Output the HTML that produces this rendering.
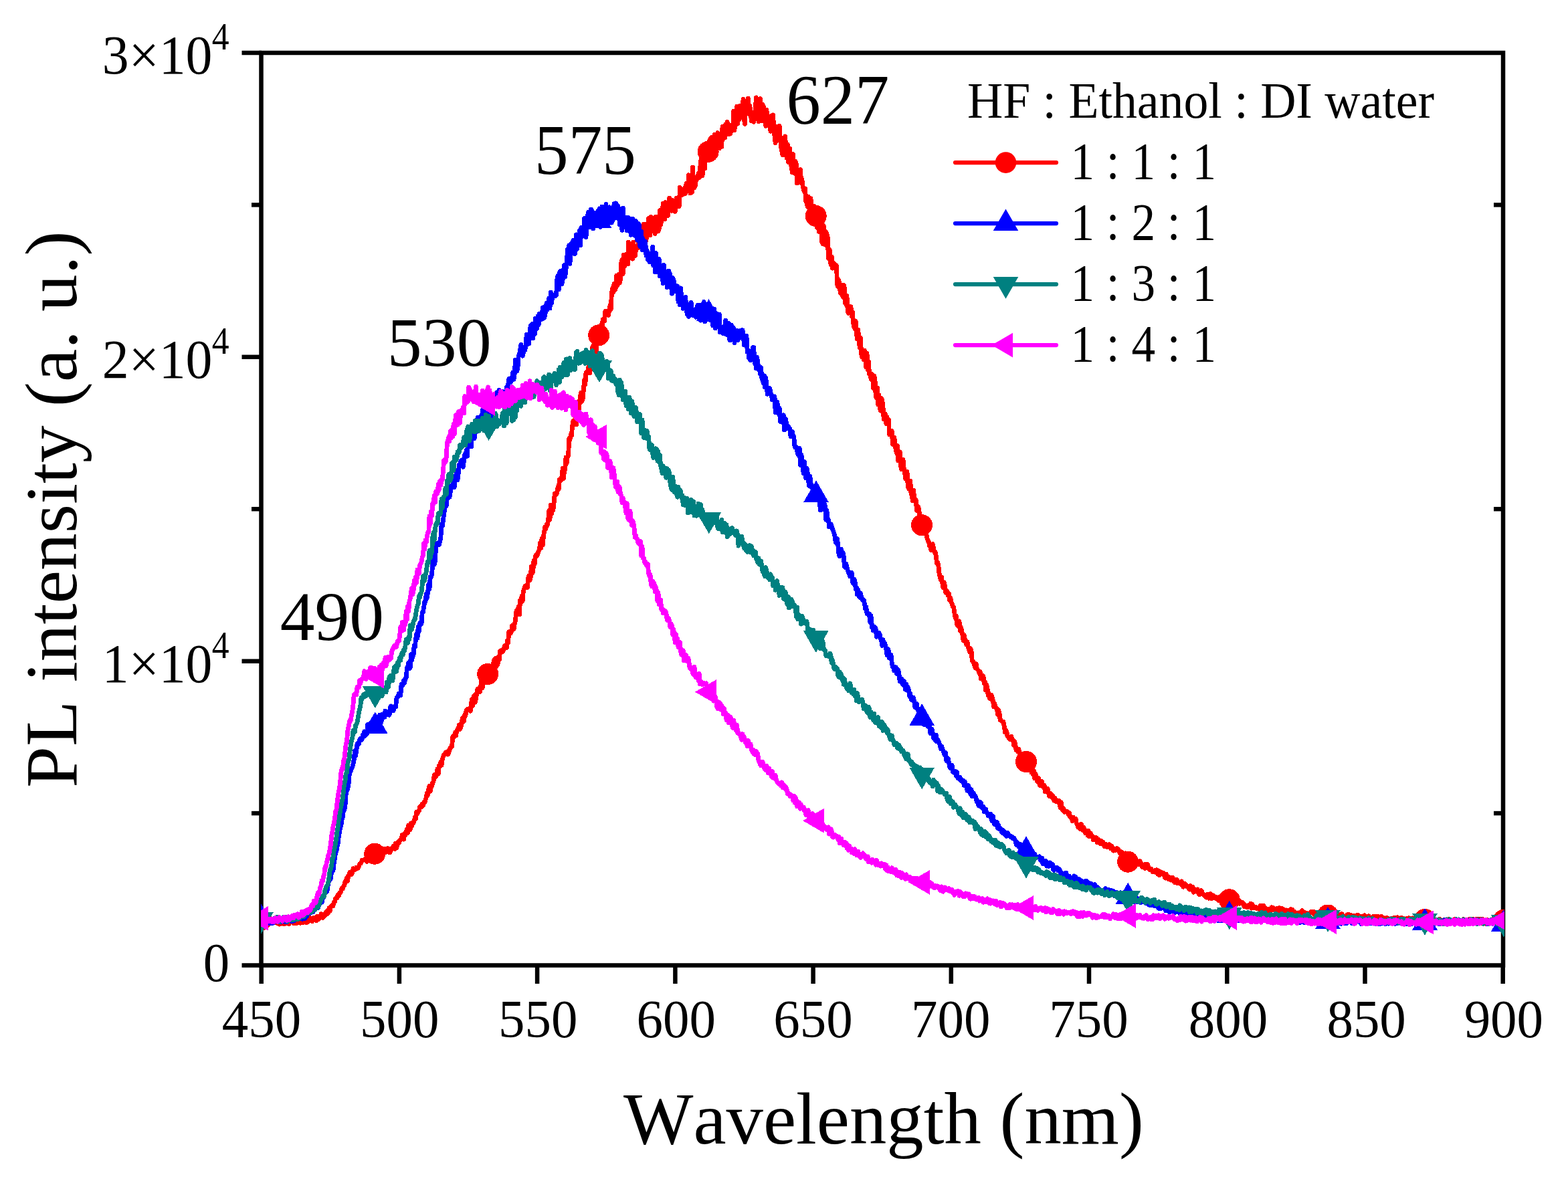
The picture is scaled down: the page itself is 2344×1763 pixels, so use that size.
<!DOCTYPE html>
<html lang="en"><head><meta charset="utf-8"><title>PL intensity vs Wavelength</title>
<style>
html,body{margin:0;padding:0;background:#fff;}
body{width:2344px;height:1763px;overflow:hidden;}
svg{display:block;}
</style></head><body>
<svg width="2344" height="1763" viewBox="0 0 2344 1763">
<rect width="2344" height="1763" fill="#ffffff"/>
<defs><clipPath id="pa"><rect x="390" y="79.0" width="1859" height="1364.5"/></clipPath></defs>
<g stroke="#000" stroke-width="6.5" fill="none" stroke-linecap="butt">
<rect x="390.5" y="79.0" width="1856.5" height="1364.5"/>
<line x1="390.7" y1="1443.5" x2="390.7" y2="1471.0"/>
<line x1="596.9" y1="1443.5" x2="596.9" y2="1471.0"/>
<line x1="803.1" y1="1443.5" x2="803.1" y2="1471.0"/>
<line x1="1009.4" y1="1443.5" x2="1009.4" y2="1471.0"/>
<line x1="1215.6" y1="1443.5" x2="1215.6" y2="1471.0"/>
<line x1="1421.8" y1="1443.5" x2="1421.8" y2="1471.0"/>
<line x1="1628.0" y1="1443.5" x2="1628.0" y2="1471.0"/>
<line x1="1834.3" y1="1443.5" x2="1834.3" y2="1471.0"/>
<line x1="2040.5" y1="1443.5" x2="2040.5" y2="1471.0"/>
<line x1="2246.7" y1="1443.5" x2="2246.7" y2="1471.0"/>
<line x1="391.0" y1="1443.5" x2="361.5" y2="1443.5"/>
<line x1="391.0" y1="988.7" x2="361.5" y2="988.7"/>
<line x1="391.0" y1="533.8" x2="361.5" y2="533.8"/>
<line x1="391.0" y1="79.0" x2="361.5" y2="79.0"/>
<line x1="391.0" y1="1216.1" x2="376.0" y2="1216.1"/>
<line x1="2247.0" y1="1216.1" x2="2233.0" y2="1216.1"/>
<line x1="391.0" y1="761.2" x2="376.0" y2="761.2"/>
<line x1="2247.0" y1="761.2" x2="2233.0" y2="761.2"/>
<line x1="391.0" y1="306.4" x2="376.0" y2="306.4"/>
<line x1="2247.0" y1="306.4" x2="2233.0" y2="306.4"/>
</g>
<g clip-path="url(#pa)" fill="none" stroke-linejoin="round" stroke-linecap="round" shape-rendering="crispEdges">
<polyline points="390.0,1378.1 391.2,1381.4 392.4,1375.4 393.6,1381.5 394.8,1376.8 396.0,1377.6 397.2,1380.7 398.4,1377.6 399.6,1378.7 400.8,1374.8 402.0,1380.2 403.2,1378.6 404.4,1377.1 405.6,1380.5 406.8,1376.9 408.0,1378.1 409.2,1375.7 410.4,1377.7 411.6,1376.3 412.8,1376.7 414.0,1380.3 415.2,1376.8 416.4,1378.4 417.6,1382.1 418.8,1381.9 420.0,1380.2 421.2,1378.8 422.4,1376.8 423.6,1376.0 424.8,1382.0 426.0,1378.6 427.2,1375.6 428.4,1379.4 429.6,1380.5 430.8,1379.3 432.0,1381.5 433.2,1375.0 434.4,1378.6 435.6,1378.1 436.8,1375.1 438.0,1379.3 439.2,1380.9 440.4,1378.9 441.6,1376.4 442.8,1380.7 444.0,1378.2 445.2,1378.1 446.4,1379.9 447.6,1375.3 448.8,1380.2 450.0,1379.1 451.2,1379.7 452.4,1375.2 453.6,1379.6 454.8,1374.9 456.0,1373.9 457.2,1379.4 458.4,1379.3 459.6,1379.2 460.8,1376.0 462.0,1374.3 463.2,1372.1 464.4,1376.6 465.6,1376.9 466.8,1377.5 468.0,1373.0 469.2,1372.2 470.4,1375.0 471.6,1375.9 472.8,1376.7 474.0,1370.2 475.2,1372.3 476.4,1374.9 477.6,1370.8 478.8,1371.6 480.0,1366.7 481.2,1371.0 482.4,1372.2 483.6,1370.8 484.8,1370.4 486.0,1367.9 487.2,1363.8 488.4,1367.0 489.6,1361.6 490.8,1365.2 492.0,1357.9 493.2,1362.4 494.4,1355.7 495.6,1355.6 496.8,1353.4 498.0,1354.6 499.2,1348.6 500.4,1348.4 501.6,1343.3 502.8,1343.4 504.0,1342.5 505.2,1337.6 506.4,1339.5 507.6,1334.8 508.8,1335.2 510.0,1332.1 511.2,1327.7 512.4,1329.1 513.6,1324.9 514.8,1324.3 516.0,1318.1 517.2,1317.8 518.4,1312.7 519.6,1317.8 520.8,1309.2 522.0,1307.5 523.2,1304.1 524.4,1304.2 525.6,1307.3 526.8,1305.3 528.0,1298.8 529.2,1299.7 530.4,1298.9 531.6,1300.0 532.8,1296.9 534.0,1297.0 535.2,1298.2 536.4,1296.1 537.6,1291.8 538.8,1291.5 540.0,1289.7 541.2,1286.3 542.4,1286.1 543.6,1285.9 544.8,1285.2 546.0,1284.2 547.2,1285.7 548.4,1288.5 549.6,1285.7 550.8,1285.0 552.0,1283.9 553.2,1281.5 554.4,1283.8 555.6,1280.9 556.8,1278.4 558.0,1273.6 559.2,1277.0 560.4,1273.8 561.6,1272.6 562.8,1275.8 564.0,1278.1 565.2,1273.0 566.4,1277.3 567.6,1274.6 568.8,1270.7 570.0,1278.3 571.2,1272.6 572.4,1271.3 573.6,1276.4 574.8,1269.0 576.0,1274.7 577.2,1269.0 578.4,1270.7 579.6,1268.7 580.8,1274.3 582.0,1269.4 583.2,1274.6 584.4,1270.6 585.6,1270.6 586.8,1268.1 588.0,1265.2 589.2,1265.1 590.4,1269.5 591.6,1261.0 592.8,1267.7 594.0,1264.3 595.2,1259.1 596.4,1260.6 597.6,1256.8 598.8,1255.4 600.0,1255.2 601.2,1248.7 602.4,1251.9 603.6,1255.1 604.8,1246.3 606.0,1249.2 607.2,1244.2 608.4,1239.9 609.6,1245.3 610.8,1234.1 612.0,1235.2 613.2,1240.7 614.4,1230.9 615.6,1235.3 616.8,1230.7 618.0,1230.9 619.2,1227.0 620.4,1222.1 621.6,1224.4 622.8,1214.2 624.0,1216.7 625.2,1213.7 626.4,1212.7 627.6,1206.5 628.8,1205.3 630.0,1206.8 631.2,1202.4 632.4,1204.5 633.6,1199.9 634.8,1200.3 636.0,1196.2 637.2,1192.1 638.4,1185.8 639.6,1188.9 640.8,1180.1 642.0,1175.3 643.2,1183.2 644.4,1175.6 645.6,1175.8 646.8,1170.3 648.0,1168.6 649.2,1159.0 650.4,1158.2 651.6,1161.5 652.8,1157.6 654.0,1149.9 655.2,1157.2 656.4,1144.6 657.6,1146.6 658.8,1139.4 660.0,1144.2 661.2,1136.1 662.4,1131.9 663.6,1128.3 664.8,1127.5 666.0,1125.3 667.2,1127.4 668.4,1123.9 669.6,1128.2 670.8,1125.8 672.0,1121.4 673.2,1117.4 674.4,1117.3 675.6,1116.3 676.8,1101.6 678.0,1100.5 679.2,1101.5 680.4,1095.5 681.6,1100.1 682.8,1093.1 684.0,1090.9 685.2,1088.9 686.4,1083.9 687.6,1090.6 688.8,1087.0 690.0,1084.1 691.2,1073.8 692.4,1077.0 693.6,1078.4 694.8,1068.6 696.0,1069.6 697.2,1062.0 698.4,1060.6 699.6,1060.3 700.8,1060.9 702.0,1059.3 703.2,1063.2 704.4,1052.5 705.6,1045.8 706.8,1055.4 708.0,1041.6 709.2,1039.7 710.4,1050.2 711.6,1044.7 712.8,1036.0 714.0,1030.4 715.2,1031.9 716.4,1028.7 717.6,1034.6 718.8,1025.3 720.0,1017.8 721.2,1028.7 722.4,1021.7 723.6,1011.6 724.8,1009.4 726.0,1012.8 727.2,1004.8 728.4,1011.3 729.6,1009.1 730.8,997.9 732.0,1008.5 733.2,1006.4 734.4,1006.8 735.6,1001.2 736.8,1000.0 738.0,989.8 739.2,985.9 740.4,984.8 741.6,997.7 742.8,990.8 744.0,993.9 745.2,982.2 746.4,986.9 747.6,973.4 748.8,972.8 750.0,972.4 751.2,974.6 752.4,972.3 753.6,968.9 754.8,965.1 756.0,965.0 757.2,969.0 758.4,957.6 759.6,961.2 760.8,944.8 762.0,947.4 763.2,947.2 764.4,945.1 765.6,935.3 766.8,934.7 768.0,941.1 769.2,932.6 770.4,928.2 771.6,915.6 772.8,912.1 774.0,911.6 775.2,906.9 776.4,919.0 777.6,897.6 778.8,900.8 780.0,891.5 781.2,898.7 782.4,883.8 783.6,880.3 784.8,876.5 786.0,876.1 787.2,878.0 788.4,878.5 789.6,864.2 790.8,860.8 792.0,867.7 793.2,862.8 794.4,847.2 795.6,857.3 796.8,854.5 798.0,838.3 799.2,843.9 800.4,832.0 801.6,829.6 802.8,831.2 804.0,828.3 805.2,823.9 806.4,821.7 807.6,811.4 808.8,819.6 810.0,805.6 811.2,815.2 812.4,803.1 813.6,794.8 814.8,788.1 816.0,790.6 817.2,784.0 818.4,785.0 819.6,778.0 820.8,763.6 822.0,776.7 823.2,755.5 824.4,768.6 825.6,764.3 826.8,762.9 828.0,753.3 829.2,738.1 830.4,740.6 831.6,736.8 832.8,737.5 834.0,728.2 835.2,731.6 836.4,717.3 837.6,717.4 838.8,718.2 840.0,711.6 841.2,700.2 842.4,715.4 843.6,703.7 844.8,701.5 846.0,684.1 847.2,692.3 848.4,683.0 849.6,681.1 850.8,656.0 852.0,657.5 853.2,650.2 854.4,651.2 855.6,637.5 856.8,629.3 858.0,634.6 859.2,634.5 860.4,623.5 861.6,634.7 862.8,614.8 864.0,607.2 865.2,615.9 866.4,601.8 867.6,591.7 868.8,587.2 870.0,600.2 871.2,596.0 872.4,582.8 873.6,568.2 874.8,575.5 876.0,557.3 877.2,555.8 878.4,557.6 879.6,549.4 880.8,543.8 882.0,557.5 883.2,530.7 884.4,539.5 885.6,519.1 886.8,516.8 888.0,516.3 889.2,535.1 890.4,523.4 891.6,523.5 892.8,495.3 894.0,510.1 895.2,499.2 896.4,495.0 897.6,500.5 898.8,485.3 900.0,488.4 901.2,477.7 902.4,478.7 903.6,479.9 904.8,465.3 906.0,465.7 907.2,466.8 908.4,465.0 909.6,471.6 910.8,463.2 912.0,457.0 913.2,463.0 914.4,438.1 915.6,431.4 916.8,436.8 918.0,424.6 919.2,434.0 920.4,430.6 921.6,412.3 922.8,427.3 924.0,418.4 925.2,410.5 926.4,423.2 927.6,417.7 928.8,393.3 930.0,388.1 931.2,409.7 932.4,381.3 933.6,398.4 934.8,380.8 936.0,380.1 937.2,384.5 938.4,395.1 939.6,362.1 940.8,365.8 942.0,383.2 943.2,370.7 944.4,365.6 945.6,387.2 946.8,361.9 948.0,375.8 949.2,382.9 950.4,374.4 951.6,370.9 952.8,369.7 954.0,370.8 955.2,350.6 956.4,361.2 957.6,365.6 958.8,367.0 960.0,366.0 961.2,364.5 962.4,335.0 963.6,343.6 964.8,345.3 966.0,359.6 967.2,342.1 968.4,335.9 969.6,326.5 970.8,335.1 972.0,351.7 973.2,324.1 974.4,328.3 975.6,332.5 976.8,339.3 978.0,332.2 979.2,349.4 980.4,324.2 981.6,335.5 982.8,341.8 984.0,345.8 985.2,342.3 986.4,314.5 987.6,336.5 988.8,330.9 990.0,320.3 991.2,304.6 992.4,308.3 993.6,327.9 994.8,302.6 996.0,309.5 997.2,306.1 998.4,322.6 999.6,307.3 1000.8,296.2 1002.0,305.2 1003.2,302.3 1004.4,315.2 1005.6,299.5 1006.8,311.8 1008.0,304.9 1009.2,316.3 1010.4,309.4 1011.6,296.0 1012.8,297.5 1014.0,295.6 1015.2,308.9 1016.4,280.3 1017.6,289.4 1018.8,291.9 1020.0,286.6 1021.2,291.0 1022.4,285.7 1023.6,280.8 1024.8,289.3 1026.0,274.3 1027.2,283.0 1028.4,285.8 1029.6,261.7 1030.8,267.3 1032.0,289.0 1033.2,288.2 1034.4,287.6 1035.6,250.1 1036.8,278.3 1038.0,280.9 1039.2,278.2 1040.4,269.6 1041.6,266.6 1042.8,266.7 1044.0,259.5 1045.2,266.0 1046.4,253.3 1047.6,240.8 1048.8,233.6 1050.0,262.8 1051.2,254.5 1052.4,229.6 1053.6,252.2 1054.8,229.3 1056.0,240.0 1057.2,226.8 1058.4,219.1 1059.6,215.6 1060.8,209.6 1062.0,207.9 1063.2,206.0 1064.4,205.1 1065.6,233.0 1066.8,218.8 1068.0,201.7 1069.2,216.0 1070.4,215.2 1071.6,211.8 1072.8,198.6 1074.0,206.2 1075.2,222.1 1076.4,200.9 1077.6,204.0 1078.8,219.5 1080.0,189.5 1081.2,207.5 1082.4,195.6 1083.6,205.8 1084.8,186.2 1086.0,191.5 1087.2,182.2 1088.4,200.6 1089.6,200.7 1090.8,187.2 1092.0,200.0 1093.2,188.3 1094.4,191.1 1095.6,192.8 1096.8,166.1 1098.0,194.9 1099.2,169.4 1100.4,173.1 1101.6,159.2 1102.8,185.2 1104.0,164.4 1105.2,178.5 1106.4,158.3 1107.6,163.3 1108.8,164.2 1110.0,157.5 1111.2,148.5 1112.4,178.7 1113.6,185.6 1114.8,154.7 1116.0,151.4 1117.2,158.6 1118.4,147.1 1119.6,170.4 1120.8,158.3 1122.0,166.3 1123.2,180.6 1124.4,178.8 1125.6,181.5 1126.8,182.3 1128.0,168.2 1129.2,164.9 1130.4,145.9 1131.6,149.2 1132.8,167.4 1134.0,181.9 1135.2,164.8 1136.4,147.6 1137.6,157.0 1138.8,180.6 1140.0,156.2 1141.2,158.8 1142.4,163.3 1143.6,177.8 1144.8,188.4 1146.0,164.1 1147.2,181.3 1148.4,179.8 1149.6,177.8 1150.8,185.0 1152.0,196.2 1153.2,173.3 1154.4,186.5 1155.6,171.8 1156.8,190.4 1158.0,203.6 1159.2,213.8 1160.4,194.5 1161.6,189.2 1162.8,202.7 1164.0,196.5 1165.2,188.3 1166.4,207.0 1167.6,220.2 1168.8,226.1 1170.0,231.7 1171.2,209.6 1172.4,207.2 1173.6,203.9 1174.8,219.1 1176.0,236.1 1177.2,215.9 1178.4,242.5 1179.6,239.4 1180.8,221.9 1182.0,241.2 1183.2,251.0 1184.4,257.8 1185.6,230.5 1186.8,258.5 1188.0,259.3 1189.2,241.4 1190.4,246.0 1191.6,274.0 1192.8,253.9 1194.0,253.9 1195.2,273.0 1196.4,253.5 1197.6,269.5 1198.8,267.6 1200.0,277.5 1201.2,282.6 1202.4,286.8 1203.6,282.0 1204.8,301.8 1206.0,302.8 1207.2,309.2 1208.4,294.1 1209.6,307.4 1210.8,299.3 1212.0,296.6 1213.2,313.0 1214.4,326.4 1215.6,324.1 1216.8,308.3 1218.0,309.1 1219.2,331.5 1220.4,332.0 1221.6,340.5 1222.8,318.1 1224.0,346.2 1225.2,334.1 1226.4,331.5 1227.6,337.0 1228.8,362.7 1230.0,364.5 1231.2,337.5 1232.4,348.9 1233.6,366.2 1234.8,346.5 1236.0,350.5 1237.2,354.8 1238.4,386.5 1239.6,372.6 1240.8,376.1 1242.0,395.8 1243.2,383.8 1244.4,401.2 1245.6,392.6 1246.8,393.8 1248.0,400.1 1249.2,396.4 1250.4,396.7 1251.6,425.7 1252.8,428.9 1254.0,419.1 1255.2,429.6 1256.4,438.3 1257.6,426.5 1258.8,439.7 1260.0,444.1 1261.2,426.1 1262.4,431.1 1263.6,453.3 1264.8,455.1 1266.0,442.4 1267.2,465.5 1268.4,468.3 1269.6,457.8 1270.8,461.8 1272.0,458.7 1273.2,472.6 1274.4,466.4 1275.6,483.0 1276.8,489.0 1278.0,491.4 1279.2,480.2 1280.4,499.9 1281.6,507.2 1282.8,493.2 1284.0,509.8 1285.2,519.6 1286.4,505.2 1287.6,529.0 1288.8,533.9 1290.0,529.8 1291.2,537.6 1292.4,524.2 1293.6,538.4 1294.8,548.9 1296.0,528.2 1297.2,552.9 1298.4,540.6 1299.6,559.3 1300.8,558.6 1302.0,566.4 1303.2,559.4 1304.4,564.4 1305.6,580.5 1306.8,561.9 1308.0,567.9 1309.2,593.0 1310.4,595.4 1311.6,579.9 1312.8,604.9 1314.0,590.8 1315.2,610.3 1316.4,614.1 1317.6,595.4 1318.8,598.1 1320.0,608.9 1321.2,626.6 1322.4,626.0 1323.6,619.1 1324.8,633.6 1326.0,623.6 1327.2,628.0 1328.4,627.8 1329.6,649.7 1330.8,649.6 1332.0,645.3 1333.2,644.4 1334.4,664.3 1335.6,654.8 1336.8,654.2 1338.0,662.8 1339.2,673.1 1340.4,677.9 1341.6,666.7 1342.8,688.8 1344.0,686.1 1345.2,675.8 1346.4,696.0 1347.6,702.0 1348.8,702.1 1350.0,687.3 1351.2,700.5 1352.4,706.2 1353.6,715.8 1354.8,711.0 1356.0,705.4 1357.2,726.8 1358.4,730.6 1359.6,724.4 1360.8,719.0 1362.0,738.8 1363.2,740.4 1364.4,748.8 1365.6,733.2 1366.8,745.7 1368.0,746.6 1369.2,747.1 1370.4,763.5 1371.6,759.6 1372.8,757.6 1374.0,763.2 1375.2,779.9 1376.4,779.5 1377.6,775.5 1378.8,787.9 1380.0,780.2 1381.2,793.4 1382.4,795.8 1383.6,786.4 1384.8,798.6 1386.0,805.3 1387.2,808.5 1388.4,810.3 1389.6,816.4 1390.8,817.0 1392.0,823.0 1393.2,817.1 1394.4,813.7 1395.6,820.0 1396.8,825.7 1398.0,825.3 1399.2,830.4 1400.4,841.6 1401.6,841.0 1402.8,845.5 1404.0,857.2 1405.2,863.1 1406.4,867.1 1407.6,862.8 1408.8,872.5 1410.0,878.8 1411.2,870.8 1412.4,875.2 1413.6,885.9 1414.8,882.8 1416.0,884.7 1417.2,890.5 1418.4,887.6 1419.6,897.4 1420.8,893.9 1422.0,900.1 1423.2,902.6 1424.4,907.6 1425.6,907.5 1426.8,916.3 1428.0,923.0 1429.2,920.8 1430.4,933.3 1431.6,935.4 1432.8,930.0 1434.0,929.0 1435.2,943.2 1436.4,938.0 1437.6,942.2 1438.8,948.8 1440.0,957.8 1441.2,950.0 1442.4,955.3 1443.6,960.4 1444.8,964.0 1446.0,959.8 1447.2,968.3 1448.4,970.4 1449.6,974.9 1450.8,969.8 1452.0,972.8 1453.2,987.9 1454.4,988.5 1455.6,991.3 1456.8,995.5 1458.0,998.4 1459.2,992.9 1460.4,1000.6 1461.6,1001.5 1462.8,1002.9 1464.0,1007.1 1465.2,1004.6 1466.4,1014.7 1467.6,1011.0 1468.8,1010.1 1470.0,1010.9 1471.2,1022.2 1472.4,1019.3 1473.6,1031.9 1474.8,1024.2 1476.0,1028.6 1477.2,1040.2 1478.4,1036.6 1479.6,1044.5 1480.8,1045.2 1482.0,1039.1 1483.2,1042.9 1484.4,1047.8 1485.6,1056.8 1486.8,1052.2 1488.0,1056.5 1489.2,1059.3 1490.4,1059.9 1491.6,1068.4 1492.8,1061.7 1494.0,1066.6 1495.2,1076.9 1496.4,1077.1 1497.6,1078.6 1498.8,1079.6 1500.0,1079.3 1501.2,1085.9 1502.4,1094.8 1503.6,1092.0 1504.8,1093.8 1506.0,1100.7 1507.2,1101.2 1508.4,1104.4 1509.6,1105.6 1510.8,1103.9 1512.0,1101.5 1513.2,1107.4 1514.4,1106.2 1515.6,1114.2 1516.8,1108.7 1518.0,1115.1 1519.2,1122.1 1520.4,1120.1 1521.6,1124.1 1522.8,1120.3 1524.0,1124.4 1525.2,1134.0 1526.4,1132.3 1527.6,1130.7 1528.8,1134.1 1530.0,1138.7 1531.2,1140.4 1532.4,1142.5 1533.6,1138.0 1534.8,1139.2 1536.0,1145.4 1537.2,1145.8 1538.4,1148.0 1539.6,1145.7 1540.8,1148.6 1542.0,1155.1 1543.2,1152.4 1544.4,1158.5 1545.6,1152.3 1546.8,1164.0 1548.0,1157.4 1549.2,1162.0 1550.4,1168.5 1551.6,1162.8 1552.8,1164.1 1554.0,1173.9 1555.2,1174.6 1556.4,1172.1 1557.6,1168.6 1558.8,1176.0 1560.0,1173.7 1561.2,1174.9 1562.4,1184.0 1563.6,1182.2 1564.8,1181.8 1566.0,1179.2 1567.2,1183.9 1568.4,1190.5 1569.6,1185.9 1570.8,1187.4 1572.0,1191.7 1573.2,1189.2 1574.4,1193.7 1575.6,1197.1 1576.8,1193.2 1578.0,1196.3 1579.2,1198.6 1580.4,1197.5 1581.6,1197.2 1582.8,1197.2 1584.0,1203.0 1585.2,1208.0 1586.4,1199.8 1587.6,1209.6 1588.8,1211.8 1590.0,1208.8 1591.2,1214.4 1592.4,1213.1 1593.6,1212.8 1594.8,1213.3 1596.0,1214.8 1597.2,1218.3 1598.4,1215.2 1599.6,1221.4 1600.8,1220.6 1602.0,1223.8 1603.2,1227.8 1604.4,1222.1 1605.6,1225.1 1606.8,1225.2 1608.0,1224.2 1609.2,1231.0 1610.4,1232.3 1611.6,1237.1 1612.8,1234.4 1614.0,1233.6 1615.2,1239.6 1616.4,1232.2 1617.6,1236.1 1618.8,1241.6 1620.0,1237.0 1621.2,1240.0 1622.4,1245.8 1623.6,1242.0 1624.8,1242.1 1626.0,1249.2 1627.2,1242.5 1628.4,1250.8 1629.6,1246.6 1630.8,1246.4 1632.0,1249.9 1633.2,1250.7 1634.4,1256.0 1635.6,1254.8 1636.8,1252.8 1638.0,1254.5 1639.2,1252.9 1640.4,1259.8 1641.6,1255.0 1642.8,1260.3 1644.0,1258.8 1645.2,1261.9 1646.4,1257.4 1647.6,1258.6 1648.8,1258.8 1650.0,1263.7 1651.2,1265.6 1652.4,1265.1 1653.6,1262.4 1654.8,1266.6 1656.0,1266.4 1657.2,1265.1 1658.4,1262.8 1659.6,1264.0 1660.8,1269.0 1662.0,1265.1 1663.2,1269.2 1664.4,1272.1 1665.6,1271.5 1666.8,1271.8 1668.0,1269.3 1669.2,1268.8 1670.4,1268.8 1671.6,1269.6 1672.8,1272.0 1674.0,1275.6 1675.2,1275.1 1676.4,1273.9 1677.6,1275.5 1678.8,1277.6 1680.0,1281.3 1681.2,1280.7 1682.4,1275.9 1683.6,1280.4 1684.8,1278.5 1686.0,1285.0 1687.2,1285.9 1688.4,1283.6 1689.6,1285.9 1690.8,1286.0 1692.0,1287.8 1693.2,1283.6 1694.4,1283.8 1695.6,1288.9 1696.8,1291.4 1698.0,1285.6 1699.2,1289.1 1700.4,1289.5 1701.6,1288.5 1702.8,1292.4 1704.0,1287.6 1705.2,1290.2 1706.4,1291.3 1707.6,1296.4 1708.8,1294.6 1710.0,1295.4 1711.2,1298.4 1712.4,1292.3 1713.6,1296.1 1714.8,1292.4 1716.0,1293.5 1717.2,1298.6 1718.4,1300.3 1719.6,1299.3 1720.8,1299.4 1722.0,1301.8 1723.2,1303.8 1724.4,1304.1 1725.6,1303.7 1726.8,1301.1 1728.0,1304.5 1729.2,1300.6 1730.4,1306.9 1731.6,1302.2 1732.8,1308.7 1734.0,1303.6 1735.2,1303.9 1736.4,1305.1 1737.6,1307.0 1738.8,1305.2 1740.0,1306.3 1741.2,1312.1 1742.4,1313.1 1743.6,1307.2 1744.8,1310.2 1746.0,1310.6 1747.2,1314.6 1748.4,1313.8 1749.6,1312.3 1750.8,1316.1 1752.0,1315.2 1753.2,1312.5 1754.4,1317.9 1755.6,1315.8 1756.8,1319.9 1758.0,1318.6 1759.2,1315.0 1760.4,1320.6 1761.6,1319.7 1762.8,1320.0 1764.0,1319.6 1765.2,1322.2 1766.4,1317.9 1767.6,1322.1 1768.8,1326.2 1770.0,1320.9 1771.2,1321.0 1772.4,1323.8 1773.6,1325.3 1774.8,1324.8 1776.0,1326.3 1777.2,1328.5 1778.4,1330.1 1779.6,1324.7 1780.8,1328.0 1782.0,1330.5 1783.2,1326.3 1784.4,1334.3 1785.6,1332.4 1786.8,1331.7 1788.0,1331.9 1789.2,1330.0 1790.4,1329.9 1791.6,1335.3 1792.8,1337.7 1794.0,1337.1 1795.2,1331.5 1796.4,1332.1 1797.6,1336.3 1798.8,1337.2 1800.0,1337.9 1801.2,1340.4 1802.4,1341.0 1803.6,1342.1 1804.8,1337.4 1806.0,1338.8 1807.2,1343.3 1808.4,1341.4 1809.6,1336.7 1810.8,1343.7 1812.0,1341.7 1813.2,1338.7 1814.4,1340.2 1815.6,1342.2 1816.8,1343.1 1818.0,1341.5 1819.2,1344.3 1820.4,1342.9 1821.6,1346.5 1822.8,1345.8 1824.0,1340.6 1825.2,1340.5 1826.4,1346.5 1827.6,1344.8 1828.8,1347.9 1830.0,1343.9 1831.2,1342.2 1832.4,1341.3 1833.6,1347.2 1834.8,1342.1 1836.0,1346.7 1837.2,1346.4 1838.4,1348.0 1839.6,1349.9 1840.8,1344.7 1842.0,1346.9 1843.2,1349.3 1844.4,1345.5 1845.6,1344.9 1846.8,1345.6 1848.0,1352.1 1849.2,1351.3 1850.4,1347.2 1851.6,1346.1 1852.8,1351.3 1854.0,1349.2 1855.2,1348.8 1856.4,1349.0 1857.6,1351.4 1858.8,1350.8 1860.0,1355.6 1861.2,1353.1 1862.4,1356.0 1863.6,1356.5 1864.8,1356.6 1866.0,1353.8 1867.2,1354.7 1868.4,1354.6 1869.6,1351.0 1870.8,1358.2 1872.0,1352.4 1873.2,1355.7 1874.4,1356.9 1875.6,1357.9 1876.8,1356.3 1878.0,1357.2 1879.2,1358.9 1880.4,1357.7 1881.6,1358.1 1882.8,1359.7 1884.0,1354.0 1885.2,1357.5 1886.4,1354.0 1887.6,1355.2 1888.8,1354.4 1890.0,1360.9 1891.2,1357.1 1892.4,1358.7 1893.6,1360.9 1894.8,1360.3 1896.0,1362.2 1897.2,1359.1 1898.4,1360.9 1899.6,1362.3 1900.8,1356.8 1902.0,1359.7 1903.2,1357.0 1904.4,1360.6 1905.6,1359.0 1906.8,1363.1 1908.0,1360.4 1909.2,1358.3 1910.4,1363.8 1911.6,1360.6 1912.8,1357.7 1914.0,1359.7 1915.2,1360.7 1916.4,1358.2 1917.6,1359.2 1918.8,1360.5 1920.0,1360.9 1921.2,1361.8 1922.4,1360.9 1923.6,1361.2 1924.8,1362.4 1926.0,1361.7 1927.2,1364.8 1928.4,1365.2 1929.6,1359.7 1930.8,1360.9 1932.0,1360.5 1933.2,1362.5 1934.4,1362.7 1935.6,1365.7 1936.8,1365.7 1938.0,1366.9 1939.2,1365.6 1940.4,1365.0 1941.6,1368.1 1942.8,1365.6 1944.0,1363.9 1945.2,1363.4 1946.4,1361.5 1947.6,1368.3 1948.8,1367.0 1950.0,1364.3 1951.2,1368.1 1952.4,1367.4 1953.6,1365.3 1954.8,1369.0 1956.0,1368.6 1957.2,1365.5 1958.4,1365.4 1959.6,1363.5 1960.8,1363.2 1962.0,1365.2 1963.2,1364.2 1964.4,1363.2 1965.6,1368.2 1966.8,1370.0 1968.0,1368.1 1969.2,1369.8 1970.4,1369.6 1971.6,1368.0 1972.8,1367.2 1974.0,1366.1 1975.2,1367.2 1976.4,1366.0 1977.6,1365.0 1978.8,1367.5 1980.0,1368.8 1981.2,1368.3 1982.4,1369.5 1983.6,1366.7 1984.8,1364.3 1986.0,1366.0 1987.2,1366.6 1988.4,1368.7 1989.6,1367.6 1990.8,1369.6 1992.0,1366.6 1993.2,1368.5 1994.4,1365.2 1995.6,1370.3 1996.8,1371.7 1998.0,1371.7 1999.2,1372.0 2000.4,1367.1 2001.6,1373.0 2002.8,1369.9 2004.0,1367.4 2005.2,1366.8 2006.4,1366.7 2007.6,1371.0 2008.8,1371.0 2010.0,1372.3 2011.2,1371.4 2012.4,1370.5 2013.6,1368.0 2014.8,1372.3 2016.0,1367.1 2017.2,1372.0 2018.4,1368.5 2019.6,1368.5 2020.8,1374.0 2022.0,1374.3 2023.2,1372.9 2024.4,1369.4 2025.6,1371.2 2026.8,1370.4 2028.0,1368.8 2029.2,1369.8 2030.4,1368.5 2031.6,1375.3 2032.8,1370.0 2034.0,1371.2 2035.2,1370.2 2036.4,1373.2 2037.6,1372.7 2038.8,1374.2 2040.0,1368.8 2041.2,1370.3 2042.4,1373.2 2043.6,1373.1 2044.8,1375.0 2046.0,1369.7 2047.2,1371.9 2048.4,1372.2 2049.6,1373.0 2050.8,1371.9 2052.0,1374.8 2053.2,1370.3 2054.4,1370.0 2055.6,1371.9 2056.8,1370.4 2058.0,1372.6 2059.2,1374.0 2060.4,1370.5 2061.6,1373.3 2062.8,1374.1 2064.0,1374.2 2065.2,1370.4 2066.4,1375.8 2067.6,1375.5 2068.8,1372.5 2070.0,1373.8 2071.2,1375.8 2072.4,1376.5 2073.6,1372.4 2074.8,1376.2 2076.0,1373.8 2077.2,1377.6 2078.4,1377.2 2079.6,1373.5 2080.8,1373.5 2082.0,1374.5 2083.2,1378.0 2084.4,1372.1 2085.6,1375.1 2086.8,1375.9 2088.0,1376.5 2089.2,1371.8 2090.4,1375.7 2091.6,1374.7 2092.8,1373.9 2094.0,1378.5 2095.2,1372.4 2096.4,1376.8 2097.6,1373.2 2098.8,1378.6 2100.0,1375.4 2101.2,1375.1 2102.4,1373.7 2103.6,1375.8 2104.8,1378.3 2106.0,1372.6 2107.2,1376.9 2108.4,1373.2 2109.6,1373.9 2110.8,1378.4 2112.0,1372.9 2113.2,1377.6 2114.4,1372.8 2115.6,1376.1 2116.8,1377.0 2118.0,1373.6 2119.2,1378.4 2120.4,1374.2 2121.6,1376.1 2122.8,1374.4 2124.0,1378.2 2125.2,1374.6 2126.4,1374.7 2127.6,1372.9 2128.8,1379.3 2130.0,1373.2 2131.2,1375.2 2132.4,1377.6 2133.6,1375.4 2134.8,1377.3 2136.0,1375.7 2137.2,1379.4 2138.4,1374.2 2139.6,1373.3 2140.8,1373.9 2142.0,1376.9 2143.2,1377.5 2144.4,1379.2 2145.6,1380.1 2146.8,1376.2 2148.0,1379.2 2149.2,1376.2 2150.4,1376.0 2151.6,1374.3 2152.8,1379.6 2154.0,1375.8 2155.2,1378.1 2156.4,1377.2 2157.6,1380.6 2158.8,1375.3 2160.0,1377.5 2161.2,1379.2 2162.4,1374.9 2163.6,1379.5 2164.8,1377.6 2166.0,1374.3 2167.2,1380.6 2168.4,1376.6 2169.6,1377.1 2170.8,1379.3 2172.0,1380.6 2173.2,1375.5 2174.4,1374.7 2175.6,1379.1 2176.8,1378.6 2178.0,1377.0 2179.2,1378.4 2180.4,1380.6 2181.6,1379.8 2182.8,1377.9 2184.0,1380.4 2185.2,1380.4 2186.4,1379.4 2187.6,1374.7 2188.8,1377.9 2190.0,1378.3 2191.2,1380.2 2192.4,1377.6 2193.6,1378.3 2194.8,1379.1 2196.0,1374.6 2197.2,1374.4 2198.4,1374.2 2199.6,1374.8 2200.8,1375.9 2202.0,1374.4 2203.2,1378.3 2204.4,1378.2 2205.6,1377.3 2206.8,1374.2 2208.0,1377.8 2209.2,1375.0 2210.4,1374.2 2211.6,1379.8 2212.8,1380.7 2214.0,1374.7 2215.2,1378.9 2216.4,1374.6 2217.6,1378.4 2218.8,1378.7 2220.0,1378.4 2221.2,1381.3 2222.4,1378.6 2223.6,1375.4 2224.8,1380.9 2226.0,1376.4 2227.2,1378.1 2228.4,1377.4 2229.6,1380.1 2230.8,1374.9 2232.0,1377.0 2233.2,1377.5 2234.4,1378.6 2235.6,1380.8 2236.8,1376.5 2238.0,1376.8 2239.2,1379.2 2240.4,1375.9 2241.6,1378.0 2242.8,1376.7 2244.0,1378.9 2245.2,1378.6 2246.4,1379.3 2247.6,1377.5 2248.8,1376.1" stroke="#ff0000" stroke-width="6.8"/>
<circle cx="390.4" cy="1375.5" r="16" fill="#ff0000"/><circle cx="560.2" cy="1276.7" r="16" fill="#ff0000"/><circle cx="729.2" cy="1007.9" r="16" fill="#ff0000"/><circle cx="895.1" cy="501.3" r="16" fill="#ff0000"/><circle cx="1058.6" cy="226.9" r="16" fill="#ff0000"/><circle cx="1219.7" cy="323.0" r="16" fill="#ff0000"/><circle cx="1378.0" cy="785.2" r="16" fill="#ff0000"/><circle cx="1534.0" cy="1139.0" r="16" fill="#ff0000"/><circle cx="1686.2" cy="1288.7" r="16" fill="#ff0000"/><circle cx="1837.7" cy="1345.3" r="16" fill="#ff0000"/><circle cx="1985.0" cy="1368.5" r="16" fill="#ff0000"/><circle cx="2130.0" cy="1375.0" r="16" fill="#ff0000"/><circle cx="2247.7" cy="1375.8" r="16" fill="#ff0000"/>
<polyline points="390.0,1374.2 391.2,1374.5 392.4,1378.3 393.6,1372.9 394.8,1376.7 396.0,1377.7 397.2,1373.7 398.4,1372.7 399.6,1374.3 400.8,1377.2 402.0,1376.4 403.2,1373.4 404.4,1375.5 405.6,1377.2 406.8,1375.4 408.0,1376.9 409.2,1379.4 410.4,1377.3 411.6,1375.1 412.8,1373.6 414.0,1374.8 415.2,1376.0 416.4,1378.8 417.6,1377.9 418.8,1374.5 420.0,1379.0 421.2,1375.6 422.4,1377.3 423.6,1372.9 424.8,1372.8 426.0,1373.5 427.2,1378.6 428.4,1377.0 429.6,1378.2 430.8,1376.5 432.0,1374.6 433.2,1375.3 434.4,1375.7 435.6,1377.5 436.8,1374.1 438.0,1377.3 439.2,1375.0 440.4,1376.4 441.6,1373.7 442.8,1374.9 444.0,1372.0 445.2,1373.1 446.4,1370.6 447.6,1369.4 448.8,1368.7 450.0,1373.4 451.2,1371.2 452.4,1374.2 453.6,1373.3 454.8,1369.5 456.0,1373.5 457.2,1370.1 458.4,1370.8 459.6,1367.3 460.8,1364.9 462.0,1363.8 463.2,1362.9 464.4,1365.2 465.6,1360.4 466.8,1358.7 468.0,1364.0 469.2,1357.3 470.4,1358.9 471.6,1358.1 472.8,1357.9 474.0,1355.7 475.2,1357.7 476.4,1354.7 477.6,1351.6 478.8,1350.2 480.0,1347.4 481.2,1349.1 482.4,1340.9 483.6,1342.4 484.8,1338.8 486.0,1332.0 487.2,1331.4 488.4,1333.7 489.6,1329.3 490.8,1319.1 492.0,1317.8 493.2,1311.3 494.4,1314.4 495.6,1303.7 496.8,1298.4 498.0,1301.7 499.2,1291.3 500.4,1284.3 501.6,1275.8 502.8,1273.0 504.0,1266.5 505.2,1261.5 506.4,1249.5 507.6,1243.9 508.8,1237.5 510.0,1233.1 511.2,1224.8 512.4,1221.4 513.6,1210.9 514.8,1211.1 516.0,1205.0 517.2,1187.8 518.4,1182.5 519.6,1179.8 520.8,1175.5 522.0,1160.4 523.2,1155.5 524.4,1152.6 525.6,1149.3 526.8,1146.9 528.0,1141.8 529.2,1136.4 530.4,1122.6 531.6,1130.8 532.8,1122.4 534.0,1112.1 535.2,1111.1 536.4,1112.8 537.6,1106.6 538.8,1104.6 540.0,1106.9 541.2,1104.9 542.4,1099.1 543.6,1100.8 544.8,1093.9 546.0,1100.2 547.2,1093.7 548.4,1097.5 549.6,1083.4 550.8,1093.9 552.0,1088.3 553.2,1089.4 554.4,1081.1 555.6,1085.1 556.8,1080.4 558.0,1076.8 559.2,1074.4 560.4,1086.1 561.6,1081.7 562.8,1074.1 564.0,1073.9 565.2,1076.0 566.4,1080.1 567.6,1069.3 568.8,1080.6 570.0,1079.4 571.2,1068.6 572.4,1073.5 573.6,1068.6 574.8,1072.6 576.0,1062.9 577.2,1067.5 578.4,1068.2 579.6,1067.7 580.8,1067.6 582.0,1069.3 583.2,1058.6 584.4,1055.9 585.6,1057.9 586.8,1058.9 588.0,1062.9 589.2,1057.3 590.4,1055.7 591.6,1057.1 592.8,1044.4 594.0,1041.9 595.2,1041.7 596.4,1036.8 597.6,1038.8 598.8,1039.7 600.0,1023.6 601.2,1025.3 602.4,1024.0 603.6,1017.5 604.8,1020.7 606.0,1014.7 607.2,1013.8 608.4,998.4 609.6,996.5 610.8,991.0 612.0,999.8 613.2,998.2 614.4,978.7 615.6,987.2 616.8,981.7 618.0,980.2 619.2,964.8 620.4,967.6 621.6,954.9 622.8,947.5 624.0,954.3 625.2,937.5 626.4,944.2 627.6,932.2 628.8,930.9 630.0,933.2 631.2,916.5 632.4,915.4 633.6,908.1 634.8,899.6 636.0,899.4 637.2,888.4 638.4,894.4 639.6,885.3 640.8,873.4 642.0,880.8 643.2,862.8 644.4,863.2 645.6,858.5 646.8,843.3 648.0,832.3 649.2,844.2 650.4,839.9 651.6,818.5 652.8,812.8 654.0,813.3 655.2,811.7 656.4,814.9 657.6,809.4 658.8,805.1 660.0,784.4 661.2,787.0 662.4,778.6 663.6,769.2 664.8,760.5 666.0,757.6 667.2,756.6 668.4,745.5 669.6,742.0 670.8,734.8 672.0,743.4 673.2,736.2 674.4,726.6 675.6,729.4 676.8,723.4 678.0,725.4 679.2,728.5 680.4,711.9 681.6,715.9 682.8,703.1 684.0,717.7 685.2,707.9 686.4,694.9 687.6,694.9 688.8,690.1 690.0,688.0 691.2,688.4 692.4,698.2 693.6,686.7 694.8,679.5 696.0,680.2 697.2,673.6 698.4,682.2 699.6,662.8 700.8,665.5 702.0,663.5 703.2,657.1 704.4,668.0 705.6,650.9 706.8,650.6 708.0,641.2 709.2,655.4 710.4,642.2 711.6,646.4 712.8,632.2 714.0,624.2 715.2,629.3 716.4,638.8 717.6,638.4 718.8,624.0 720.0,635.4 721.2,613.3 722.4,624.2 723.6,616.1 724.8,619.5 726.0,612.5 727.2,628.7 728.4,611.7 729.6,626.9 730.8,603.2 732.0,609.9 733.2,608.4 734.4,613.6 735.6,602.1 736.8,604.2 738.0,591.2 739.2,596.0 740.4,605.5 741.6,587.5 742.8,595.8 744.0,588.5 745.2,585.4 746.4,583.1 747.6,600.7 748.8,596.1 750.0,586.6 751.2,585.6 752.4,593.4 753.6,588.5 754.8,595.4 756.0,593.7 757.2,579.5 758.4,581.9 759.6,576.0 760.8,566.6 762.0,567.6 763.2,572.0 764.4,564.5 765.6,563.9 766.8,557.0 768.0,567.3 769.2,559.5 770.4,538.3 771.6,554.8 772.8,554.8 774.0,549.1 775.2,532.6 776.4,530.4 777.6,523.8 778.8,515.3 780.0,524.2 781.2,532.2 782.4,526.8 783.6,520.8 784.8,523.5 786.0,515.4 787.2,500.2 788.4,515.3 789.6,500.5 790.8,514.2 792.0,495.7 793.2,487.1 794.4,504.5 795.6,484.4 796.8,505.7 798.0,490.4 799.2,499.9 800.4,476.3 801.6,489.3 802.8,491.5 804.0,473.0 805.2,485.5 806.4,469.3 807.6,472.0 808.8,471.7 810.0,477.3 811.2,460.0 812.4,459.4 813.6,475.5 814.8,471.2 816.0,460.7 817.2,452.9 818.4,463.2 819.6,453.6 820.8,446.0 822.0,461.1 823.2,437.1 824.4,453.5 825.6,444.9 826.8,443.1 828.0,441.6 829.2,441.1 830.4,442.8 831.6,441.5 832.8,417.4 834.0,411.9 835.2,433.0 836.4,407.8 837.6,405.7 838.8,422.1 840.0,424.6 841.2,417.8 842.4,404.1 843.6,396.5 844.8,413.9 846.0,402.6 847.2,396.1 848.4,372.5 849.6,375.8 850.8,366.9 852.0,394.3 853.2,368.8 854.4,363.7 855.6,375.0 856.8,359.3 858.0,368.5 859.2,379.8 860.4,374.4 861.6,350.8 862.8,371.8 864.0,351.8 865.2,354.0 866.4,345.1 867.6,366.7 868.8,340.6 870.0,353.8 871.2,348.0 872.4,348.8 873.6,326.5 874.8,340.2 876.0,354.9 877.2,338.0 878.4,323.6 879.6,317.1 880.8,325.9 882.0,339.7 883.2,313.3 884.4,313.5 885.6,334.5 886.8,341.9 888.0,325.6 889.2,331.7 890.4,318.1 891.6,318.2 892.8,325.0 894.0,315.5 895.2,323.5 896.4,312.2 897.6,339.6 898.8,329.3 900.0,309.1 901.2,312.4 902.4,334.9 903.6,318.2 904.8,313.9 906.0,305.2 907.2,328.4 908.4,324.5 909.6,334.0 910.8,309.8 912.0,330.6 913.2,333.2 914.4,333.0 915.6,330.1 916.8,319.1 918.0,304.8 919.2,326.2 920.4,303.9 921.6,306.2 922.8,318.2 924.0,308.4 925.2,321.0 926.4,336.2 927.6,312.9 928.8,336.1 930.0,344.2 931.2,311.0 932.4,326.0 933.6,337.5 934.8,339.6 936.0,324.9 937.2,344.8 938.4,330.5 939.6,325.5 940.8,337.9 942.0,342.3 943.2,351.3 944.4,346.3 945.6,327.0 946.8,345.4 948.0,338.5 949.2,352.4 950.4,330.5 951.6,353.2 952.8,359.2 954.0,334.4 955.2,335.1 956.4,367.2 957.6,369.1 958.8,346.0 960.0,373.7 961.2,357.8 962.4,363.6 963.6,363.9 964.8,361.3 966.0,382.0 967.2,374.7 968.4,387.7 969.6,379.2 970.8,391.7 972.0,379.9 973.2,380.7 974.4,386.1 975.6,369.3 976.8,397.0 978.0,378.0 979.2,406.9 980.4,378.7 981.6,402.7 982.8,406.4 984.0,400.5 985.2,387.3 986.4,412.6 987.6,397.9 988.8,398.3 990.0,413.1 991.2,423.7 992.4,396.4 993.6,409.0 994.8,418.3 996.0,406.8 997.2,429.5 998.4,420.5 999.6,405.0 1000.8,409.3 1002.0,410.7 1003.2,422.7 1004.4,439.2 1005.6,415.4 1006.8,418.6 1008.0,422.4 1009.2,435.9 1010.4,433.2 1011.6,434.7 1012.8,427.8 1014.0,451.1 1015.2,441.8 1016.4,455.6 1017.6,430.8 1018.8,446.0 1020.0,444.9 1021.2,461.4 1022.4,458.2 1023.6,454.3 1024.8,444.5 1026.0,462.0 1027.2,469.8 1028.4,467.0 1029.6,473.6 1030.8,462.6 1032.0,454.5 1033.2,452.2 1034.4,470.7 1035.6,471.6 1036.8,466.5 1038.0,471.5 1039.2,462.7 1040.4,474.4 1041.6,469.9 1042.8,456.3 1044.0,467.3 1045.2,469.8 1046.4,456.1 1047.6,479.2 1048.8,475.5 1050.0,455.4 1051.2,458.0 1052.4,451.5 1053.6,480.8 1054.8,457.4 1056.0,478.1 1057.2,468.5 1058.4,454.9 1059.6,460.1 1060.8,462.1 1062.0,478.4 1063.2,467.0 1064.4,461.0 1065.6,486.8 1066.8,474.6 1068.0,462.0 1069.2,491.0 1070.4,483.1 1071.6,477.1 1072.8,469.3 1074.0,487.2 1075.2,470.1 1076.4,496.8 1077.6,492.1 1078.8,491.9 1080.0,494.7 1081.2,498.6 1082.4,487.8 1083.6,499.2 1084.8,479.2 1086.0,498.0 1087.2,500.6 1088.4,485.4 1089.6,483.4 1090.8,508.5 1092.0,508.6 1093.2,486.0 1094.4,501.0 1095.6,489.4 1096.8,490.6 1098.0,512.7 1099.2,505.1 1100.4,508.2 1101.6,494.2 1102.8,509.1 1104.0,506.2 1105.2,496.8 1106.4,501.5 1107.6,494.4 1108.8,505.1 1110.0,493.5 1111.2,502.0 1112.4,515.7 1113.6,512.3 1114.8,513.6 1116.0,502.4 1117.2,526.4 1118.4,523.4 1119.6,535.3 1120.8,536.9 1122.0,538.7 1123.2,528.9 1124.4,537.4 1125.6,519.7 1126.8,519.7 1128.0,542.6 1129.2,541.1 1130.4,550.7 1131.6,534.2 1132.8,541.7 1134.0,552.3 1135.2,549.8 1136.4,559.3 1137.6,549.4 1138.8,565.0 1140.0,568.5 1141.2,572.8 1142.4,561.8 1143.6,578.9 1144.8,565.2 1146.0,575.9 1147.2,589.3 1148.4,582.9 1149.6,584.3 1150.8,580.8 1152.0,587.8 1153.2,589.9 1154.4,597.8 1155.6,596.8 1156.8,593.6 1158.0,593.0 1159.2,616.9 1160.4,609.8 1161.6,600.7 1162.8,607.8 1164.0,618.7 1165.2,610.6 1166.4,630.3 1167.6,623.6 1168.8,629.7 1170.0,631.6 1171.2,620.8 1172.4,642.8 1173.6,642.6 1174.8,626.7 1176.0,639.6 1177.2,640.6 1178.4,637.2 1179.6,641.2 1180.8,640.7 1182.0,652.9 1183.2,650.7 1184.4,645.6 1185.6,651.9 1186.8,653.2 1188.0,668.2 1189.2,669.4 1190.4,668.2 1191.6,674.7 1192.8,679.4 1194.0,671.9 1195.2,670.7 1196.4,695.3 1197.6,679.3 1198.8,683.6 1200.0,697.8 1201.2,707.8 1202.4,690.7 1203.6,700.8 1204.8,714.9 1206.0,700.1 1207.2,707.1 1208.4,718.5 1209.6,726.2 1210.8,712.1 1212.0,721.9 1213.2,728.5 1214.4,729.9 1215.6,732.0 1216.8,744.8 1218.0,747.0 1219.2,731.8 1220.4,735.3 1221.6,740.9 1222.8,736.5 1224.0,739.7 1225.2,751.3 1226.4,762.8 1227.6,749.6 1228.8,749.8 1230.0,761.3 1231.2,756.7 1232.4,753.0 1233.6,757.3 1234.8,777.2 1236.0,763.5 1237.2,778.3 1238.4,776.9 1239.6,788.0 1240.8,786.0 1242.0,783.7 1243.2,786.8 1244.4,790.7 1245.6,793.9 1246.8,797.4 1248.0,801.4 1249.2,810.6 1250.4,812.0 1251.6,805.5 1252.8,815.5 1254.0,828.6 1255.2,831.6 1256.4,821.8 1257.6,821.3 1258.8,826.7 1260.0,826.2 1261.2,831.3 1262.4,847.0 1263.6,848.7 1264.8,842.9 1266.0,847.4 1267.2,853.0 1268.4,855.8 1269.6,858.4 1270.8,862.1 1272.0,862.2 1273.2,856.4 1274.4,869.9 1275.6,872.5 1276.8,865.9 1278.0,869.4 1279.2,880.4 1280.4,878.5 1281.6,889.1 1282.8,881.9 1284.0,891.7 1285.2,893.3 1286.4,886.8 1287.6,892.4 1288.8,896.4 1290.0,898.1 1291.2,897.0 1292.4,902.3 1293.6,910.3 1294.8,907.5 1296.0,917.4 1297.2,916.2 1298.4,919.6 1299.6,917.9 1300.8,930.5 1302.0,920.9 1303.2,938.1 1304.4,934.6 1305.6,943.0 1306.8,938.8 1308.0,937.9 1309.2,940.6 1310.4,952.2 1311.6,947.8 1312.8,948.0 1314.0,946.4 1315.2,948.6 1316.4,955.0 1317.6,957.7 1318.8,965.5 1320.0,956.7 1321.2,964.1 1322.4,961.1 1323.6,965.3 1324.8,971.3 1326.0,979.6 1327.2,970.3 1328.4,973.4 1329.6,984.0 1330.8,983.7 1332.0,979.4 1333.2,990.9 1334.4,997.5 1335.6,996.6 1336.8,1002.9 1338.0,1001.5 1339.2,997.8 1340.4,1007.3 1341.6,1006.4 1342.8,1001.8 1344.0,1008.2 1345.2,1019.1 1346.4,1017.1 1347.6,1015.2 1348.8,1022.1 1350.0,1023.7 1351.2,1018.1 1352.4,1024.3 1353.6,1031.1 1354.8,1023.3 1356.0,1031.4 1357.2,1027.5 1358.4,1031.8 1359.6,1040.7 1360.8,1037.2 1362.0,1045.7 1363.2,1046.6 1364.4,1047.6 1365.6,1043.2 1366.8,1049.6 1368.0,1057.8 1369.2,1057.0 1370.4,1052.1 1371.6,1060.6 1372.8,1062.7 1374.0,1065.6 1375.2,1067.2 1376.4,1074.8 1377.6,1073.3 1378.8,1079.5 1380.0,1082.6 1381.2,1083.6 1382.4,1083.6 1383.6,1075.7 1384.8,1077.0 1386.0,1080.7 1387.2,1086.5 1388.4,1085.3 1389.6,1084.7 1390.8,1096.3 1392.0,1091.7 1393.2,1090.5 1394.4,1096.3 1395.6,1103.9 1396.8,1102.6 1398.0,1107.0 1399.2,1099.0 1400.4,1108.7 1401.6,1105.8 1402.8,1108.1 1404.0,1111.4 1405.2,1113.6 1406.4,1119.7 1407.6,1116.0 1408.8,1120.3 1410.0,1122.4 1411.2,1127.2 1412.4,1129.0 1413.6,1125.5 1414.8,1137.4 1416.0,1137.4 1417.2,1134.0 1418.4,1140.1 1419.6,1146.7 1420.8,1148.4 1422.0,1144.7 1423.2,1144.7 1424.4,1154.5 1425.6,1153.7 1426.8,1154.6 1428.0,1153.4 1429.2,1160.1 1430.4,1154.2 1431.6,1162.8 1432.8,1164.1 1434.0,1162.6 1435.2,1162.4 1436.4,1167.4 1437.6,1165.7 1438.8,1167.4 1440.0,1167.3 1441.2,1174.3 1442.4,1168.9 1443.6,1174.0 1444.8,1174.9 1446.0,1182.2 1447.2,1174.2 1448.4,1180.6 1449.6,1178.4 1450.8,1187.7 1452.0,1180.5 1453.2,1190.5 1454.4,1189.3 1455.6,1186.2 1456.8,1190.2 1458.0,1190.4 1459.2,1194.2 1460.4,1199.5 1461.6,1197.6 1462.8,1204.4 1464.0,1205.2 1465.2,1199.6 1466.4,1200.3 1467.6,1207.4 1468.8,1205.5 1470.0,1206.0 1471.2,1214.1 1472.4,1211.9 1473.6,1210.2 1474.8,1214.5 1476.0,1215.8 1477.2,1219.6 1478.4,1217.1 1479.6,1219.5 1480.8,1217.4 1482.0,1225.7 1483.2,1227.8 1484.4,1220.2 1485.6,1229.1 1486.8,1232.7 1488.0,1233.0 1489.2,1233.8 1490.4,1229.4 1491.6,1238.3 1492.8,1233.7 1494.0,1239.6 1495.2,1240.1 1496.4,1239.7 1497.6,1244.4 1498.8,1245.5 1500.0,1241.8 1501.2,1243.2 1502.4,1248.5 1503.6,1245.4 1504.8,1250.4 1506.0,1245.5 1507.2,1246.8 1508.4,1249.1 1509.6,1249.4 1510.8,1251.8 1512.0,1250.6 1513.2,1251.1 1514.4,1254.1 1515.6,1253.2 1516.8,1255.7 1518.0,1257.2 1519.2,1263.2 1520.4,1259.4 1521.6,1262.1 1522.8,1266.2 1524.0,1262.9 1525.2,1262.4 1526.4,1266.2 1527.6,1269.6 1528.8,1265.8 1530.0,1270.9 1531.2,1269.6 1532.4,1271.0 1533.6,1273.0 1534.8,1272.3 1536.0,1270.6 1537.2,1271.9 1538.4,1271.1 1539.6,1279.3 1540.8,1278.0 1542.0,1281.4 1543.2,1276.6 1544.4,1279.5 1545.6,1280.3 1546.8,1277.2 1548.0,1281.6 1549.2,1282.8 1550.4,1281.9 1551.6,1281.9 1552.8,1281.6 1554.0,1280.9 1555.2,1286.2 1556.4,1283.3 1557.6,1283.0 1558.8,1291.6 1560.0,1291.5 1561.2,1287.6 1562.4,1289.3 1563.6,1287.7 1564.8,1295.2 1566.0,1290.0 1567.2,1295.4 1568.4,1295.3 1569.6,1289.8 1570.8,1290.7 1572.0,1294.9 1573.2,1292.1 1574.4,1300.5 1575.6,1301.6 1576.8,1299.3 1578.0,1297.4 1579.2,1297.3 1580.4,1297.4 1581.6,1301.7 1582.8,1298.9 1584.0,1300.1 1585.2,1305.0 1586.4,1307.0 1587.6,1305.6 1588.8,1309.0 1590.0,1308.4 1591.2,1305.8 1592.4,1305.8 1593.6,1305.1 1594.8,1310.8 1596.0,1308.9 1597.2,1312.6 1598.4,1310.0 1599.6,1313.8 1600.8,1313.1 1602.0,1312.4 1603.2,1314.4 1604.4,1314.9 1605.6,1309.8 1606.8,1316.6 1608.0,1311.4 1609.2,1315.5 1610.4,1315.6 1611.6,1318.3 1612.8,1314.4 1614.0,1318.8 1615.2,1320.0 1616.4,1316.9 1617.6,1319.3 1618.8,1318.4 1620.0,1321.7 1621.2,1323.2 1622.4,1320.6 1623.6,1317.0 1624.8,1324.9 1626.0,1322.6 1627.2,1319.8 1628.4,1324.7 1629.6,1322.9 1630.8,1321.2 1632.0,1323.0 1633.2,1325.7 1634.4,1323.9 1635.6,1322.9 1636.8,1322.7 1638.0,1325.9 1639.2,1329.2 1640.4,1326.6 1641.6,1327.6 1642.8,1331.2 1644.0,1330.4 1645.2,1333.7 1646.4,1332.9 1647.6,1334.2 1648.8,1331.3 1650.0,1333.8 1651.2,1336.0 1652.4,1328.6 1653.6,1332.6 1654.8,1335.2 1656.0,1331.5 1657.2,1330.6 1658.4,1334.3 1659.6,1331.2 1660.8,1332.3 1662.0,1331.8 1663.2,1337.5 1664.4,1332.4 1665.6,1339.6 1666.8,1337.0 1668.0,1336.1 1669.2,1334.4 1670.4,1336.6 1671.6,1335.8 1672.8,1340.9 1674.0,1338.4 1675.2,1334.9 1676.4,1342.3 1677.6,1343.0 1678.8,1343.4 1680.0,1338.0 1681.2,1340.1 1682.4,1342.1 1683.6,1337.7 1684.8,1340.5 1686.0,1340.0 1687.2,1344.5 1688.4,1338.3 1689.6,1345.6 1690.8,1338.9 1692.0,1346.2 1693.2,1342.9 1694.4,1341.1 1695.6,1342.4 1696.8,1347.6 1698.0,1342.1 1699.2,1347.2 1700.4,1348.1 1701.6,1343.9 1702.8,1346.4 1704.0,1346.2 1705.2,1349.7 1706.4,1344.3 1707.6,1346.1 1708.8,1348.6 1710.0,1345.0 1711.2,1346.2 1712.4,1350.4 1713.6,1349.8 1714.8,1349.5 1716.0,1352.2 1717.2,1347.8 1718.4,1353.3 1719.6,1349.1 1720.8,1354.0 1722.0,1352.9 1723.2,1353.2 1724.4,1352.7 1725.6,1354.4 1726.8,1351.3 1728.0,1354.9 1729.2,1350.7 1730.4,1355.2 1731.6,1358.0 1732.8,1358.4 1734.0,1353.4 1735.2,1358.8 1736.4,1356.9 1737.6,1356.2 1738.8,1356.2 1740.0,1357.2 1741.2,1357.6 1742.4,1361.8 1743.6,1360.8 1744.8,1356.7 1746.0,1361.7 1747.2,1360.8 1748.4,1364.1 1749.6,1359.2 1750.8,1362.9 1752.0,1361.6 1753.2,1359.7 1754.4,1359.2 1755.6,1365.3 1756.8,1359.0 1758.0,1361.0 1759.2,1362.9 1760.4,1361.8 1761.6,1364.0 1762.8,1361.5 1764.0,1366.2 1765.2,1365.0 1766.4,1365.7 1767.6,1368.4 1768.8,1362.6 1770.0,1365.1 1771.2,1363.0 1772.4,1364.3 1773.6,1366.0 1774.8,1368.1 1776.0,1364.0 1777.2,1368.8 1778.4,1368.4 1779.6,1366.7 1780.8,1369.8 1782.0,1366.7 1783.2,1370.9 1784.4,1370.9 1785.6,1367.0 1786.8,1371.1 1788.0,1369.8 1789.2,1368.1 1790.4,1368.8 1791.6,1370.3 1792.8,1371.5 1794.0,1371.2 1795.2,1371.6 1796.4,1367.6 1797.6,1364.8 1798.8,1365.8 1800.0,1367.7 1801.2,1365.6 1802.4,1369.0 1803.6,1365.9 1804.8,1367.3 1806.0,1367.4 1807.2,1371.8 1808.4,1368.7 1809.6,1366.1 1810.8,1370.9 1812.0,1372.2 1813.2,1370.6 1814.4,1365.5 1815.6,1371.7 1816.8,1367.1 1818.0,1371.6 1819.2,1371.6 1820.4,1370.6 1821.6,1366.3 1822.8,1368.4 1824.0,1366.7 1825.2,1371.5 1826.4,1366.4 1827.6,1369.1 1828.8,1371.4 1830.0,1372.0 1831.2,1369.2 1832.4,1366.7 1833.6,1372.6 1834.8,1368.4 1836.0,1369.9 1837.2,1366.3 1838.4,1368.6 1839.6,1373.3 1840.8,1371.8 1842.0,1371.8 1843.2,1370.8 1844.4,1367.7 1845.6,1368.4 1846.8,1373.8 1848.0,1367.8 1849.2,1371.9 1850.4,1369.8 1851.6,1372.5 1852.8,1368.3 1854.0,1368.1 1855.2,1371.4 1856.4,1369.4 1857.6,1373.3 1858.8,1374.9 1860.0,1368.8 1861.2,1369.6 1862.4,1369.2 1863.6,1370.8 1864.8,1369.8 1866.0,1372.6 1867.2,1371.0 1868.4,1372.1 1869.6,1374.7 1870.8,1374.8 1872.0,1369.9 1873.2,1370.6 1874.4,1372.9 1875.6,1372.3 1876.8,1369.2 1878.0,1374.4 1879.2,1374.8 1880.4,1372.3 1881.6,1370.2 1882.8,1374.4 1884.0,1369.9 1885.2,1370.0 1886.4,1373.7 1887.6,1372.8 1888.8,1376.9 1890.0,1371.6 1891.2,1371.2 1892.4,1372.3 1893.6,1376.3 1894.8,1375.1 1896.0,1370.2 1897.2,1371.2 1898.4,1377.2 1899.6,1374.5 1900.8,1373.4 1902.0,1371.0 1903.2,1372.2 1904.4,1370.8 1905.6,1376.8 1906.8,1377.5 1908.0,1374.7 1909.2,1376.6 1910.4,1371.9 1911.6,1373.0 1912.8,1375.5 1914.0,1376.0 1915.2,1375.5 1916.4,1371.9 1917.6,1378.0 1918.8,1373.2 1920.0,1376.4 1921.2,1377.7 1922.4,1372.5 1923.6,1374.9 1924.8,1376.1 1926.0,1378.9 1927.2,1376.9 1928.4,1375.0 1929.6,1376.9 1930.8,1375.7 1932.0,1372.8 1933.2,1373.7 1934.4,1376.7 1935.6,1377.1 1936.8,1375.4 1938.0,1374.2 1939.2,1372.8 1940.4,1377.8 1941.6,1373.9 1942.8,1377.7 1944.0,1379.4 1945.2,1378.6 1946.4,1377.0 1947.6,1373.2 1948.8,1377.9 1950.0,1379.9 1951.2,1375.1 1952.4,1379.0 1953.6,1376.9 1954.8,1378.7 1956.0,1378.4 1957.2,1375.3 1958.4,1376.7 1959.6,1374.0 1960.8,1374.2 1962.0,1375.4 1963.2,1378.5 1964.4,1376.3 1965.6,1379.7 1966.8,1378.2 1968.0,1380.1 1969.2,1379.2 1970.4,1376.8 1971.6,1374.4 1972.8,1377.2 1974.0,1377.4 1975.2,1374.5 1976.4,1374.8 1977.6,1380.8 1978.8,1379.7 1980.0,1376.4 1981.2,1374.1 1982.4,1375.8 1983.6,1377.8 1984.8,1380.8 1986.0,1374.1 1987.2,1379.1 1988.4,1380.8 1989.6,1380.9 1990.8,1378.3 1992.0,1379.6 1993.2,1378.9 1994.4,1374.2 1995.6,1376.0 1996.8,1380.8 1998.0,1374.8 1999.2,1375.3 2000.4,1378.5 2001.6,1380.5 2002.8,1376.8 2004.0,1378.5 2005.2,1381.2 2006.4,1380.2 2007.6,1374.3 2008.8,1379.1 2010.0,1375.0 2011.2,1381.1 2012.4,1379.4 2013.6,1380.7 2014.8,1377.8 2016.0,1374.7 2017.2,1375.8 2018.4,1374.9 2019.6,1379.7 2020.8,1380.6 2022.0,1377.6 2023.2,1380.4 2024.4,1375.9 2025.6,1377.5 2026.8,1377.4 2028.0,1377.9 2029.2,1374.6 2030.4,1375.7 2031.6,1375.2 2032.8,1379.1 2034.0,1377.9 2035.2,1381.6 2036.4,1379.0 2037.6,1376.0 2038.8,1375.3 2040.0,1379.4 2041.2,1380.4 2042.4,1375.5 2043.6,1378.3 2044.8,1381.4 2046.0,1381.0 2047.2,1375.4 2048.4,1378.1 2049.6,1380.9 2050.8,1379.0 2052.0,1374.8 2053.2,1377.1 2054.4,1376.7 2055.6,1377.1 2056.8,1381.7 2058.0,1380.5 2059.2,1381.8 2060.4,1380.4 2061.6,1381.6 2062.8,1377.7 2064.0,1381.4 2065.2,1378.6 2066.4,1380.5 2067.6,1376.2 2068.8,1381.0 2070.0,1377.6 2071.2,1381.5 2072.4,1377.0 2073.6,1377.6 2074.8,1378.4 2076.0,1381.1 2077.2,1380.0 2078.4,1376.7 2079.6,1378.4 2080.8,1380.9 2082.0,1381.2 2083.2,1380.2 2084.4,1377.2 2085.6,1381.4 2086.8,1377.6 2088.0,1380.1 2089.2,1380.6 2090.4,1379.8 2091.6,1375.3 2092.8,1376.4 2094.0,1380.5 2095.2,1379.6 2096.4,1380.9 2097.6,1379.9 2098.8,1379.8 2100.0,1381.2 2101.2,1381.6 2102.4,1377.0 2103.6,1380.9 2104.8,1381.8 2106.0,1375.8 2107.2,1378.1 2108.4,1378.8 2109.6,1379.0 2110.8,1381.2 2112.0,1375.0 2113.2,1375.5 2114.4,1380.6 2115.6,1377.0 2116.8,1378.3 2118.0,1376.0 2119.2,1381.8 2120.4,1378.5 2121.6,1375.5 2122.8,1381.5 2124.0,1379.2 2125.2,1376.8 2126.4,1375.7 2127.6,1375.2 2128.8,1381.2 2130.0,1375.9 2131.2,1376.6 2132.4,1379.0 2133.6,1375.5 2134.8,1380.2 2136.0,1379.7 2137.2,1379.7 2138.4,1377.6 2139.6,1377.1 2140.8,1380.6 2142.0,1382.1 2143.2,1379.3 2144.4,1381.6 2145.6,1376.2 2146.8,1380.5 2148.0,1376.8 2149.2,1377.1 2150.4,1375.3 2151.6,1381.8 2152.8,1376.2 2154.0,1376.7 2155.2,1377.6 2156.4,1378.2 2157.6,1380.9 2158.8,1375.7 2160.0,1375.6 2161.2,1376.7 2162.4,1381.4 2163.6,1381.0 2164.8,1381.5 2166.0,1378.7 2167.2,1375.2 2168.4,1379.5 2169.6,1377.1 2170.8,1376.1 2172.0,1377.3 2173.2,1380.3 2174.4,1379.3 2175.6,1380.4 2176.8,1379.6 2178.0,1379.3 2179.2,1379.1 2180.4,1380.7 2181.6,1380.0 2182.8,1379.9 2184.0,1377.6 2185.2,1376.7 2186.4,1380.7 2187.6,1379.7 2188.8,1380.6 2190.0,1377.4 2191.2,1375.3 2192.4,1380.8 2193.6,1376.4 2194.8,1380.5 2196.0,1375.6 2197.2,1375.9 2198.4,1376.0 2199.6,1376.2 2200.8,1381.0 2202.0,1375.4 2203.2,1377.4 2204.4,1379.1 2205.6,1379.0 2206.8,1380.0 2208.0,1379.0 2209.2,1376.2 2210.4,1375.8 2211.6,1380.8 2212.8,1377.2 2214.0,1376.3 2215.2,1377.3 2216.4,1376.1 2217.6,1380.7 2218.8,1376.7 2220.0,1379.4 2221.2,1378.2 2222.4,1379.3 2223.6,1381.8 2224.8,1378.7 2226.0,1376.2 2227.2,1380.1 2228.4,1377.4 2229.6,1377.1 2230.8,1381.1 2232.0,1376.9 2233.2,1377.3 2234.4,1378.3 2235.6,1380.8 2236.8,1380.7 2238.0,1378.0 2239.2,1375.3 2240.4,1375.3 2241.6,1376.0 2242.8,1382.3 2244.0,1378.4 2245.2,1378.8 2246.4,1380.2 2247.6,1378.7 2248.8,1376.4" stroke="#0000ff" stroke-width="6.8"/>
<polygon points="390.4,1351.7 409.2,1384.4 371.6,1384.4" fill="#0000ff"/><polygon points="560.8,1064.3 579.6,1097.0 542.0,1097.0" fill="#0000ff"/><polygon points="728.3,599.9 747.1,632.6 709.5,632.6" fill="#0000ff"/><polygon points="895.6,308.3 914.4,341.0 876.8,341.0" fill="#0000ff"/><polygon points="1059.6,447.3 1078.4,480.0 1040.8,480.0" fill="#0000ff"/><polygon points="1220.0,718.3 1238.8,751.0 1201.2,751.0" fill="#0000ff"/><polygon points="1378.2,1052.2 1397.0,1084.9 1359.4,1084.9" fill="#0000ff"/><polygon points="1534.0,1250.3 1552.8,1283.0 1515.2,1283.0" fill="#0000ff"/><polygon points="1686.2,1319.7 1705.0,1352.4 1667.4,1352.4" fill="#0000ff"/><polygon points="1837.7,1346.8 1856.5,1379.5 1818.9,1379.5" fill="#0000ff"/><polygon points="1985.0,1356.1 2003.8,1388.8 1966.2,1388.8" fill="#0000ff"/><polygon points="2130.0,1358.0 2148.8,1390.7 2111.2,1390.7" fill="#0000ff"/><polygon points="2247.7,1360.2 2266.5,1392.9 2228.9,1392.9" fill="#0000ff"/>
<polyline points="390.0,1372.4 391.2,1373.5 392.4,1377.8 393.6,1376.1 394.8,1372.5 396.0,1375.0 397.2,1375.3 398.4,1372.9 399.6,1377.2 400.8,1372.6 402.0,1374.6 403.2,1375.6 404.4,1374.9 405.6,1376.1 406.8,1377.2 408.0,1378.8 409.2,1373.7 410.4,1376.4 411.6,1376.8 412.8,1373.7 414.0,1371.5 415.2,1378.8 416.4,1373.7 417.6,1373.8 418.8,1378.1 420.0,1375.8 421.2,1374.9 422.4,1377.1 423.6,1371.5 424.8,1376.6 426.0,1374.0 427.2,1371.8 428.4,1376.0 429.6,1377.9 430.8,1372.3 432.0,1375.3 433.2,1372.6 434.4,1375.7 435.6,1375.4 436.8,1371.3 438.0,1375.7 439.2,1374.1 440.4,1374.0 441.6,1374.8 442.8,1371.5 444.0,1373.7 445.2,1374.3 446.4,1368.1 447.6,1373.4 448.8,1369.5 450.0,1369.6 451.2,1366.6 452.4,1370.2 453.6,1366.6 454.8,1370.4 456.0,1365.3 457.2,1366.8 458.4,1364.9 459.6,1365.8 460.8,1361.9 462.0,1360.9 463.2,1364.5 464.4,1363.7 465.6,1361.4 466.8,1363.3 468.0,1356.8 469.2,1360.9 470.4,1354.6 471.6,1359.9 472.8,1356.2 474.0,1354.9 475.2,1356.6 476.4,1353.9 477.6,1352.5 478.8,1345.1 480.0,1346.0 481.2,1341.9 482.4,1340.8 483.6,1338.3 484.8,1340.4 486.0,1330.6 487.2,1327.9 488.4,1325.0 489.6,1323.2 490.8,1319.2 492.0,1311.6 493.2,1301.7 494.4,1299.2 495.6,1295.2 496.8,1283.1 498.0,1282.5 499.2,1272.5 500.4,1267.4 501.6,1260.6 502.8,1252.9 504.0,1243.7 505.2,1236.3 506.4,1225.0 507.6,1220.8 508.8,1209.1 510.0,1205.5 511.2,1198.5 512.4,1193.6 513.6,1181.6 514.8,1169.6 516.0,1168.3 517.2,1156.8 518.4,1155.8 519.6,1143.8 520.8,1136.1 522.0,1135.5 523.2,1121.6 524.4,1114.1 525.6,1107.5 526.8,1103.3 528.0,1092.5 529.2,1093.8 530.4,1094.4 531.6,1084.8 532.8,1082.8 534.0,1080.8 535.2,1073.5 536.4,1065.9 537.6,1060.8 538.8,1055.7 540.0,1043.6 541.2,1045.1 542.4,1041.4 543.6,1038.7 544.8,1042.1 546.0,1037.2 547.2,1040.8 548.4,1039.5 549.6,1031.7 550.8,1036.5 552.0,1035.6 553.2,1040.4 554.4,1031.1 555.6,1032.3 556.8,1037.5 558.0,1035.9 559.2,1039.8 560.4,1034.8 561.6,1032.7 562.8,1043.7 564.0,1033.1 565.2,1031.3 566.4,1033.0 567.6,1033.5 568.8,1031.3 570.0,1035.5 571.2,1040.9 572.4,1027.6 573.6,1030.8 574.8,1033.2 576.0,1034.9 577.2,1034.9 578.4,1019.8 579.6,1023.9 580.8,1027.2 582.0,1012.3 583.2,1018.7 584.4,1010.2 585.6,1017.4 586.8,1017.9 588.0,1009.3 589.2,998.5 590.4,996.8 591.6,999.8 592.8,1004.1 594.0,991.6 595.2,995.9 596.4,988.8 597.6,983.6 598.8,987.7 600.0,978.1 601.2,976.0 602.4,979.3 603.6,971.6 604.8,973.1 606.0,965.3 607.2,955.9 608.4,957.3 609.6,961.3 610.8,952.5 612.0,955.9 613.2,935.6 614.4,937.7 615.6,941.4 616.8,936.0 618.0,929.6 619.2,927.1 620.4,926.3 621.6,918.0 622.8,910.7 624.0,905.9 625.2,902.9 626.4,891.5 627.6,893.0 628.8,887.2 630.0,885.7 631.2,875.2 632.4,861.8 633.6,866.9 634.8,868.5 636.0,859.6 637.2,854.9 638.4,845.0 639.6,839.4 640.8,841.6 642.0,823.4 643.2,834.1 644.4,828.8 645.6,825.2 646.8,802.5 648.0,796.6 649.2,807.7 650.4,792.1 651.6,784.4 652.8,781.9 654.0,783.2 655.2,767.8 656.4,770.3 657.6,769.6 658.8,766.5 660.0,746.4 661.2,759.8 662.4,746.9 663.6,742.4 664.8,740.8 666.0,729.8 667.2,739.2 668.4,719.1 669.6,722.3 670.8,709.3 672.0,715.6 673.2,718.4 674.4,714.2 675.6,692.7 676.8,700.6 678.0,703.4 679.2,683.2 680.4,684.8 681.6,688.7 682.8,686.1 684.0,676.0 685.2,677.6 686.4,675.7 687.6,665.4 688.8,670.4 690.0,666.4 691.2,667.3 692.4,660.7 693.6,654.4 694.8,655.0 696.0,665.5 697.2,645.4 698.4,642.8 699.6,637.8 700.8,657.4 702.0,659.2 703.2,638.4 704.4,637.5 705.6,634.2 706.8,642.9 708.0,638.6 709.2,645.9 710.4,629.1 711.6,645.2 712.8,633.8 714.0,642.1 715.2,641.7 716.4,644.2 717.6,633.4 718.8,636.1 720.0,634.7 721.2,625.1 722.4,633.0 723.6,643.8 724.8,643.3 726.0,620.3 727.2,636.7 728.4,627.9 729.6,622.8 730.8,622.7 732.0,639.3 733.2,643.3 734.4,631.7 735.6,627.8 736.8,630.7 738.0,638.6 739.2,636.1 740.4,618.0 741.6,621.4 742.8,637.9 744.0,627.7 745.2,631.5 746.4,634.2 747.6,630.0 748.8,632.1 750.0,626.7 751.2,618.0 752.4,616.5 753.6,637.0 754.8,610.9 756.0,628.1 757.2,632.6 758.4,615.1 759.6,609.7 760.8,618.2 762.0,615.7 763.2,618.5 764.4,616.8 765.6,629.4 766.8,606.9 768.0,627.4 769.2,602.2 770.4,623.9 771.6,605.9 772.8,614.2 774.0,592.8 775.2,602.6 776.4,606.8 777.6,603.9 778.8,607.3 780.0,588.5 781.2,593.9 782.4,598.4 783.6,581.4 784.8,602.0 786.0,589.5 787.2,583.8 788.4,582.1 789.6,592.7 790.8,575.4 792.0,579.7 793.2,580.4 794.4,578.3 795.6,590.3 796.8,585.7 798.0,593.5 799.2,587.2 800.4,575.4 801.6,575.6 802.8,569.5 804.0,572.2 805.2,581.6 806.4,584.5 807.6,572.2 808.8,573.0 810.0,585.2 811.2,589.0 812.4,564.5 813.6,563.7 814.8,582.0 816.0,574.2 817.2,571.7 818.4,576.8 819.6,579.6 820.8,559.9 822.0,583.8 823.2,583.0 824.4,567.2 825.6,567.9 826.8,561.7 828.0,569.6 829.2,558.1 830.4,566.4 831.6,575.8 832.8,563.8 834.0,571.8 835.2,552.7 836.4,571.4 837.6,549.1 838.8,550.5 840.0,563.6 841.2,550.7 842.4,544.2 843.6,541.9 844.8,560.5 846.0,537.2 847.2,536.9 848.4,560.7 849.6,554.8 850.8,541.9 852.0,535.7 853.2,554.0 854.4,550.8 855.6,546.5 856.8,541.6 858.0,540.7 859.2,552.9 860.4,539.2 861.6,526.1 862.8,525.4 864.0,539.9 865.2,543.3 866.4,539.9 867.6,542.8 868.8,529.5 870.0,531.3 871.2,528.0 872.4,530.7 873.6,527.4 874.8,543.5 876.0,523.5 877.2,525.1 878.4,539.6 879.6,530.5 880.8,528.9 882.0,547.2 883.2,545.2 884.4,526.1 885.6,524.7 886.8,534.9 888.0,537.8 889.2,531.9 890.4,539.6 891.6,542.8 892.8,547.5 894.0,531.8 895.2,544.1 896.4,528.1 897.6,529.3 898.8,530.1 900.0,533.0 901.2,553.2 902.4,542.9 903.6,547.9 904.8,548.2 906.0,542.9 907.2,540.0 908.4,545.4 909.6,566.0 910.8,553.0 912.0,556.8 913.2,554.1 914.4,569.0 915.6,569.5 916.8,562.3 918.0,567.4 919.2,566.1 920.4,572.8 921.6,575.2 922.8,576.6 924.0,587.4 925.2,590.7 926.4,568.1 927.6,579.3 928.8,572.3 930.0,583.7 931.2,597.7 932.4,596.7 933.6,595.9 934.8,585.2 936.0,606.8 937.2,603.5 938.4,597.2 939.6,611.9 940.8,594.0 942.0,599.7 943.2,617.5 944.4,599.7 945.6,603.8 946.8,615.4 948.0,622.8 949.2,621.7 950.4,609.3 951.6,617.7 952.8,631.1 954.0,624.0 955.2,622.3 956.4,619.6 957.6,628.6 958.8,648.1 960.0,627.9 961.2,643.1 962.4,654.5 963.6,651.6 964.8,643.4 966.0,655.2 967.2,644.4 968.4,656.4 969.6,653.0 970.8,670.7 972.0,672.8 973.2,672.5 974.4,665.2 975.6,677.8 976.8,684.4 978.0,671.6 979.2,677.5 980.4,670.8 981.6,671.7 982.8,688.8 984.0,675.1 985.2,690.5 986.4,681.0 987.6,696.7 988.8,700.9 990.0,707.6 991.2,696.6 992.4,698.8 993.6,701.1 994.8,710.4 996.0,714.4 997.2,700.5 998.4,707.4 999.6,703.1 1000.8,709.3 1002.0,722.9 1003.2,729.5 1004.4,732.5 1005.6,713.3 1006.8,723.0 1008.0,735.8 1009.2,729.2 1010.4,727.6 1011.6,739.4 1012.8,743.2 1014.0,728.6 1015.2,738.9 1016.4,732.3 1017.6,735.0 1018.8,744.8 1020.0,740.5 1021.2,754.8 1022.4,746.7 1023.6,744.3 1024.8,755.8 1026.0,748.8 1027.2,745.5 1028.4,767.1 1029.6,749.7 1030.8,749.2 1032.0,757.6 1033.2,747.6 1034.4,765.6 1035.6,750.2 1036.8,749.9 1038.0,771.0 1039.2,761.5 1040.4,771.2 1041.6,771.1 1042.8,768.1 1044.0,753.1 1045.2,767.3 1046.4,755.1 1047.6,754.6 1048.8,773.5 1050.0,762.3 1051.2,772.6 1052.4,768.4 1053.6,774.6 1054.8,772.1 1056.0,780.1 1057.2,769.9 1058.4,778.9 1059.6,778.9 1060.8,774.5 1062.0,773.6 1063.2,772.8 1064.4,778.4 1065.6,769.5 1066.8,775.7 1068.0,781.2 1069.2,774.8 1070.4,773.8 1071.6,772.4 1072.8,788.5 1074.0,791.0 1075.2,791.1 1076.4,789.3 1077.6,788.1 1078.8,777.3 1080.0,795.9 1081.2,788.1 1082.4,793.5 1083.6,782.4 1084.8,796.6 1086.0,784.7 1087.2,802.8 1088.4,798.4 1089.6,795.5 1090.8,798.9 1092.0,790.8 1093.2,797.4 1094.4,789.6 1095.6,794.6 1096.8,795.7 1098.0,794.1 1099.2,800.3 1100.4,793.9 1101.6,794.1 1102.8,801.5 1104.0,816.2 1105.2,811.6 1106.4,806.4 1107.6,802.6 1108.8,802.0 1110.0,809.2 1111.2,815.2 1112.4,819.9 1113.6,813.5 1114.8,822.8 1116.0,823.2 1117.2,825.3 1118.4,816.0 1119.6,820.3 1120.8,815.6 1122.0,826.0 1123.2,816.6 1124.4,827.1 1125.6,822.7 1126.8,830.9 1128.0,826.8 1129.2,825.0 1130.4,835.3 1131.6,837.2 1132.8,841.2 1134.0,834.6 1135.2,843.8 1136.4,841.7 1137.6,839.1 1138.8,847.4 1140.0,854.3 1141.2,848.8 1142.4,858.7 1143.6,861.9 1144.8,848.4 1146.0,854.0 1147.2,856.9 1148.4,864.5 1149.6,863.9 1150.8,867.0 1152.0,858.8 1153.2,864.3 1154.4,863.3 1155.6,875.9 1156.8,876.0 1158.0,870.0 1159.2,882.3 1160.4,869.5 1161.6,868.6 1162.8,876.7 1164.0,883.8 1165.2,890.4 1166.4,883.6 1167.6,878.0 1168.8,888.2 1170.0,878.7 1171.2,895.2 1172.4,887.4 1173.6,884.8 1174.8,887.2 1176.0,901.3 1177.2,904.3 1178.4,892.4 1179.6,909.0 1180.8,908.1 1182.0,899.9 1183.2,896.4 1184.4,899.9 1185.6,906.8 1186.8,904.3 1188.0,905.6 1189.2,909.0 1190.4,921.8 1191.6,908.3 1192.8,926.1 1194.0,919.3 1195.2,926.2 1196.4,923.9 1197.6,933.2 1198.8,921.3 1200.0,924.2 1201.2,930.3 1202.4,931.9 1203.6,930.4 1204.8,931.5 1206.0,929.2 1207.2,938.0 1208.4,945.3 1209.6,947.5 1210.8,941.1 1212.0,952.4 1213.2,953.7 1214.4,944.1 1215.6,942.2 1216.8,956.1 1218.0,959.5 1219.2,956.0 1220.4,963.0 1221.6,956.3 1222.8,958.6 1224.0,952.6 1225.2,959.1 1226.4,970.0 1227.6,957.7 1228.8,959.9 1230.0,959.7 1231.2,969.0 1232.4,972.4 1233.6,972.9 1234.8,980.4 1236.0,978.9 1237.2,980.0 1238.4,981.3 1239.6,981.8 1240.8,977.0 1242.0,979.8 1243.2,991.2 1244.4,986.8 1245.6,992.7 1246.8,999.0 1248.0,1000.7 1249.2,997.4 1250.4,999.9 1251.6,999.8 1252.8,1009.7 1254.0,1012.3 1255.2,1004.7 1256.4,1008.4 1257.6,1008.1 1258.8,1016.7 1260.0,1013.2 1261.2,1023.4 1262.4,1015.5 1263.6,1022.7 1264.8,1024.0 1266.0,1030.1 1267.2,1028.2 1268.4,1032.9 1269.6,1029.1 1270.8,1021.9 1272.0,1028.3 1273.2,1036.0 1274.4,1031.5 1275.6,1037.7 1276.8,1031.2 1278.0,1040.6 1279.2,1038.2 1280.4,1048.0 1281.6,1036.6 1282.8,1042.4 1284.0,1049.8 1285.2,1045.8 1286.4,1048.3 1287.6,1047.9 1288.8,1046.0 1290.0,1050.7 1291.2,1060.1 1292.4,1060.0 1293.6,1055.0 1294.8,1061.5 1296.0,1064.7 1297.2,1066.2 1298.4,1057.2 1299.6,1060.1 1300.8,1072.6 1302.0,1064.5 1303.2,1072.8 1304.4,1072.1 1305.6,1076.7 1306.8,1067.1 1308.0,1080.1 1309.2,1080.6 1310.4,1073.2 1311.6,1080.9 1312.8,1072.6 1314.0,1085.6 1315.2,1080.8 1316.4,1086.5 1317.6,1088.5 1318.8,1079.6 1320.0,1092.3 1321.2,1083.3 1322.4,1085.3 1323.6,1090.6 1324.8,1089.3 1326.0,1095.8 1327.2,1091.2 1328.4,1098.2 1329.6,1101.4 1330.8,1105.5 1332.0,1099.8 1333.2,1099.9 1334.4,1105.3 1335.6,1108.1 1336.8,1113.4 1338.0,1111.1 1339.2,1111.1 1340.4,1111.3 1341.6,1118.6 1342.8,1119.3 1344.0,1114.1 1345.2,1118.5 1346.4,1118.4 1347.6,1123.8 1348.8,1123.7 1350.0,1122.2 1351.2,1127.9 1352.4,1130.6 1353.6,1127.8 1354.8,1134.9 1356.0,1127.2 1357.2,1127.8 1358.4,1136.8 1359.6,1136.2 1360.8,1139.7 1362.0,1143.2 1363.2,1139.5 1364.4,1144.4 1365.6,1143.8 1366.8,1143.6 1368.0,1144.9 1369.2,1151.9 1370.4,1145.8 1371.6,1148.0 1372.8,1150.0 1374.0,1153.2 1375.2,1147.9 1376.4,1155.9 1377.6,1150.1 1378.8,1155.2 1380.0,1157.1 1381.2,1159.6 1382.4,1160.8 1383.6,1162.3 1384.8,1156.9 1386.0,1161.4 1387.2,1167.0 1388.4,1164.5 1389.6,1170.1 1390.8,1168.0 1392.0,1169.3 1393.2,1171.6 1394.4,1176.0 1395.6,1166.3 1396.8,1168.7 1398.0,1169.5 1399.2,1171.9 1400.4,1171.1 1401.6,1182.7 1402.8,1174.8 1404.0,1179.5 1405.2,1185.1 1406.4,1181.8 1407.6,1180.6 1408.8,1182.3 1410.0,1184.9 1411.2,1184.9 1412.4,1187.8 1413.6,1188.5 1414.8,1186.2 1416.0,1195.8 1417.2,1198.1 1418.4,1195.1 1419.6,1191.6 1420.8,1201.4 1422.0,1197.1 1423.2,1198.7 1424.4,1198.8 1425.6,1207.2 1426.8,1206.1 1428.0,1203.5 1429.2,1205.6 1430.4,1207.5 1431.6,1208.4 1432.8,1212.7 1434.0,1216.7 1435.2,1208.8 1436.4,1218.2 1437.6,1219.4 1438.8,1214.2 1440.0,1223.0 1441.2,1223.1 1442.4,1222.7 1443.6,1217.7 1444.8,1222.2 1446.0,1226.4 1447.2,1225.5 1448.4,1221.8 1449.6,1229.8 1450.8,1227.4 1452.0,1226.7 1453.2,1229.0 1454.4,1227.7 1455.6,1231.4 1456.8,1229.1 1458.0,1239.7 1459.2,1232.4 1460.4,1235.5 1461.6,1236.2 1462.8,1238.8 1464.0,1238.7 1465.2,1245.0 1466.4,1239.3 1467.6,1248.1 1468.8,1243.3 1470.0,1249.9 1471.2,1244.8 1472.4,1243.4 1473.6,1251.5 1474.8,1246.1 1476.0,1252.6 1477.2,1254.8 1478.4,1249.5 1479.6,1251.4 1480.8,1254.7 1482.0,1258.4 1483.2,1259.2 1484.4,1256.7 1485.6,1258.4 1486.8,1261.5 1488.0,1256.4 1489.2,1264.5 1490.4,1264.8 1491.6,1259.9 1492.8,1264.5 1494.0,1266.3 1495.2,1266.5 1496.4,1262.1 1497.6,1263.0 1498.8,1265.3 1500.0,1265.2 1501.2,1269.5 1502.4,1272.7 1503.6,1272.1 1504.8,1275.9 1506.0,1273.0 1507.2,1273.5 1508.4,1271.4 1509.6,1279.6 1510.8,1277.8 1512.0,1281.4 1513.2,1281.7 1514.4,1274.9 1515.6,1280.3 1516.8,1280.0 1518.0,1283.2 1519.2,1277.7 1520.4,1283.9 1521.6,1284.3 1522.8,1283.1 1524.0,1281.7 1525.2,1287.5 1526.4,1282.7 1527.6,1286.1 1528.8,1284.2 1530.0,1287.4 1531.2,1287.6 1532.4,1291.6 1533.6,1292.9 1534.8,1293.8 1536.0,1291.9 1537.2,1295.5 1538.4,1295.3 1539.6,1294.9 1540.8,1297.6 1542.0,1299.9 1543.2,1296.3 1544.4,1301.0 1545.6,1298.7 1546.8,1297.3 1548.0,1298.6 1549.2,1300.7 1550.4,1298.4 1551.6,1304.2 1552.8,1300.1 1554.0,1302.7 1555.2,1305.3 1556.4,1305.6 1557.6,1304.8 1558.8,1305.7 1560.0,1306.5 1561.2,1305.6 1562.4,1304.9 1563.6,1309.3 1564.8,1303.6 1566.0,1303.9 1567.2,1305.9 1568.4,1305.7 1569.6,1312.4 1570.8,1309.2 1572.0,1312.6 1573.2,1310.3 1574.4,1308.0 1575.6,1313.9 1576.8,1314.4 1578.0,1308.6 1579.2,1314.4 1580.4,1313.2 1581.6,1310.5 1582.8,1312.2 1584.0,1316.0 1585.2,1312.0 1586.4,1315.9 1587.6,1315.8 1588.8,1316.3 1590.0,1313.9 1591.2,1319.7 1592.4,1317.8 1593.6,1319.6 1594.8,1319.6 1596.0,1317.6 1597.2,1321.5 1598.4,1319.2 1599.6,1324.0 1600.8,1320.7 1602.0,1319.0 1603.2,1321.7 1604.4,1321.6 1605.6,1326.5 1606.8,1321.8 1608.0,1326.9 1609.2,1320.3 1610.4,1321.6 1611.6,1323.3 1612.8,1327.3 1614.0,1326.5 1615.2,1325.4 1616.4,1325.8 1617.6,1329.6 1618.8,1324.9 1620.0,1329.9 1621.2,1326.9 1622.4,1329.8 1623.6,1331.1 1624.8,1328.4 1626.0,1326.8 1627.2,1327.5 1628.4,1327.9 1629.6,1327.0 1630.8,1330.0 1632.0,1332.1 1633.2,1330.3 1634.4,1335.2 1635.6,1335.4 1636.8,1334.4 1638.0,1334.8 1639.2,1331.3 1640.4,1335.2 1641.6,1329.9 1642.8,1329.9 1644.0,1330.6 1645.2,1332.8 1646.4,1336.4 1647.6,1331.2 1648.8,1334.2 1650.0,1336.2 1651.2,1338.4 1652.4,1336.5 1653.6,1334.2 1654.8,1333.3 1656.0,1336.8 1657.2,1339.5 1658.4,1339.9 1659.6,1338.6 1660.8,1335.4 1662.0,1334.8 1663.2,1334.9 1664.4,1336.9 1665.6,1339.2 1666.8,1336.5 1668.0,1340.4 1669.2,1338.3 1670.4,1342.3 1671.6,1340.5 1672.8,1342.6 1674.0,1338.9 1675.2,1341.5 1676.4,1344.3 1677.6,1337.7 1678.8,1345.1 1680.0,1342.6 1681.2,1346.0 1682.4,1340.7 1683.6,1342.5 1684.8,1344.2 1686.0,1343.7 1687.2,1344.1 1688.4,1346.2 1689.6,1340.9 1690.8,1345.4 1692.0,1343.4 1693.2,1347.2 1694.4,1347.6 1695.6,1343.9 1696.8,1343.3 1698.0,1347.7 1699.2,1348.1 1700.4,1347.0 1701.6,1348.1 1702.8,1348.6 1704.0,1345.1 1705.2,1344.3 1706.4,1342.1 1707.6,1345.2 1708.8,1343.6 1710.0,1347.7 1711.2,1346.9 1712.4,1349.6 1713.6,1347.8 1714.8,1344.6 1716.0,1345.7 1717.2,1346.9 1718.4,1347.3 1719.6,1350.6 1720.8,1348.5 1722.0,1346.3 1723.2,1346.1 1724.4,1348.7 1725.6,1345.1 1726.8,1348.2 1728.0,1351.8 1729.2,1352.3 1730.4,1349.8 1731.6,1350.0 1732.8,1348.6 1734.0,1350.9 1735.2,1350.2 1736.4,1351.9 1737.6,1354.6 1738.8,1353.3 1740.0,1349.0 1741.2,1349.5 1742.4,1353.8 1743.6,1356.2 1744.8,1353.7 1746.0,1355.8 1747.2,1351.9 1748.4,1351.9 1749.6,1357.8 1750.8,1357.3 1752.0,1354.3 1753.2,1357.4 1754.4,1356.3 1755.6,1357.6 1756.8,1356.4 1758.0,1357.4 1759.2,1359.6 1760.4,1356.0 1761.6,1358.6 1762.8,1360.6 1764.0,1353.9 1765.2,1355.8 1766.4,1356.8 1767.6,1358.7 1768.8,1358.1 1770.0,1362.0 1771.2,1356.6 1772.4,1357.8 1773.6,1356.3 1774.8,1357.3 1776.0,1360.7 1777.2,1356.9 1778.4,1363.7 1779.6,1362.6 1780.8,1357.8 1782.0,1363.3 1783.2,1358.5 1784.4,1361.6 1785.6,1359.6 1786.8,1359.4 1788.0,1362.3 1789.2,1365.1 1790.4,1359.3 1791.6,1360.3 1792.8,1362.5 1794.0,1366.2 1795.2,1361.9 1796.4,1365.8 1797.6,1363.5 1798.8,1362.9 1800.0,1365.4 1801.2,1361.3 1802.4,1363.8 1803.6,1360.3 1804.8,1364.0 1806.0,1367.6 1807.2,1360.9 1808.4,1361.2 1809.6,1364.8 1810.8,1367.6 1812.0,1364.9 1813.2,1368.1 1814.4,1363.4 1815.6,1368.5 1816.8,1362.9 1818.0,1367.2 1819.2,1364.1 1820.4,1367.9 1821.6,1362.2 1822.8,1364.4 1824.0,1369.0 1825.2,1368.0 1826.4,1366.0 1827.6,1365.4 1828.8,1369.6 1830.0,1364.2 1831.2,1364.3 1832.4,1363.5 1833.6,1368.0 1834.8,1369.9 1836.0,1364.2 1837.2,1368.9 1838.4,1369.0 1839.6,1364.9 1840.8,1367.3 1842.0,1367.7 1843.2,1363.9 1844.4,1370.5 1845.6,1364.5 1846.8,1364.7 1848.0,1368.8 1849.2,1367.3 1850.4,1369.4 1851.6,1368.4 1852.8,1364.4 1854.0,1367.1 1855.2,1370.9 1856.4,1366.0 1857.6,1365.1 1858.8,1370.3 1860.0,1364.5 1861.2,1366.9 1862.4,1371.2 1863.6,1370.2 1864.8,1364.9 1866.0,1364.6 1867.2,1367.5 1868.4,1369.0 1869.6,1369.9 1870.8,1365.5 1872.0,1367.2 1873.2,1367.4 1874.4,1366.3 1875.6,1369.1 1876.8,1368.1 1878.0,1367.2 1879.2,1369.9 1880.4,1366.5 1881.6,1368.7 1882.8,1370.1 1884.0,1366.9 1885.2,1364.7 1886.4,1364.5 1887.6,1370.3 1888.8,1370.6 1890.0,1369.9 1891.2,1364.9 1892.4,1366.6 1893.6,1371.8 1894.8,1369.0 1896.0,1368.1 1897.2,1372.1 1898.4,1372.2 1899.6,1367.0 1900.8,1370.5 1902.0,1371.3 1903.2,1371.6 1904.4,1372.1 1905.6,1371.0 1906.8,1366.1 1908.0,1367.9 1909.2,1367.2 1910.4,1370.4 1911.6,1369.8 1912.8,1373.0 1914.0,1367.7 1915.2,1366.9 1916.4,1366.3 1917.6,1367.6 1918.8,1372.7 1920.0,1370.7 1921.2,1368.1 1922.4,1370.6 1923.6,1371.1 1924.8,1368.9 1926.0,1366.6 1927.2,1371.7 1928.4,1370.8 1929.6,1367.2 1930.8,1370.3 1932.0,1367.8 1933.2,1369.8 1934.4,1372.1 1935.6,1371.2 1936.8,1369.3 1938.0,1372.5 1939.2,1368.8 1940.4,1371.7 1941.6,1369.1 1942.8,1371.6 1944.0,1371.3 1945.2,1371.5 1946.4,1373.3 1947.6,1373.1 1948.8,1374.3 1950.0,1368.9 1951.2,1374.4 1952.4,1372.2 1953.6,1368.4 1954.8,1367.4 1956.0,1369.2 1957.2,1370.7 1958.4,1372.1 1959.6,1374.0 1960.8,1373.6 1962.0,1374.3 1963.2,1374.0 1964.4,1374.0 1965.6,1374.8 1966.8,1373.2 1968.0,1368.9 1969.2,1372.0 1970.4,1371.1 1971.6,1372.8 1972.8,1370.0 1974.0,1374.7 1975.2,1370.0 1976.4,1371.4 1977.6,1369.3 1978.8,1374.8 1980.0,1374.7 1981.2,1375.1 1982.4,1369.8 1983.6,1370.7 1984.8,1375.0 1986.0,1374.8 1987.2,1369.3 1988.4,1371.9 1989.6,1369.0 1990.8,1374.7 1992.0,1374.8 1993.2,1375.6 1994.4,1374.8 1995.6,1372.0 1996.8,1371.8 1998.0,1373.9 1999.2,1372.3 2000.4,1376.3 2001.6,1372.8 2002.8,1372.8 2004.0,1376.7 2005.2,1371.6 2006.4,1372.2 2007.6,1370.5 2008.8,1376.7 2010.0,1373.9 2011.2,1373.4 2012.4,1376.8 2013.6,1377.0 2014.8,1372.0 2016.0,1371.5 2017.2,1377.1 2018.4,1377.8 2019.6,1374.9 2020.8,1376.3 2022.0,1371.3 2023.2,1374.8 2024.4,1371.9 2025.6,1372.4 2026.8,1372.0 2028.0,1375.5 2029.2,1375.9 2030.4,1374.9 2031.6,1377.1 2032.8,1372.6 2034.0,1373.8 2035.2,1373.5 2036.4,1375.9 2037.6,1378.0 2038.8,1373.7 2040.0,1379.0 2041.2,1375.1 2042.4,1374.0 2043.6,1374.5 2044.8,1378.2 2046.0,1372.8 2047.2,1375.9 2048.4,1375.0 2049.6,1376.7 2050.8,1375.8 2052.0,1373.6 2053.2,1374.1 2054.4,1379.9 2055.6,1377.1 2056.8,1379.7 2058.0,1380.0 2059.2,1377.5 2060.4,1379.7 2061.6,1376.2 2062.8,1375.4 2064.0,1379.1 2065.2,1375.6 2066.4,1375.2 2067.6,1376.8 2068.8,1376.3 2070.0,1380.3 2071.2,1379.9 2072.4,1378.6 2073.6,1379.9 2074.8,1375.3 2076.0,1375.4 2077.2,1376.0 2078.4,1377.8 2079.6,1373.8 2080.8,1374.3 2082.0,1375.4 2083.2,1374.3 2084.4,1375.5 2085.6,1374.4 2086.8,1375.8 2088.0,1376.8 2089.2,1377.6 2090.4,1379.5 2091.6,1375.9 2092.8,1376.5 2094.0,1380.0 2095.2,1374.0 2096.4,1377.5 2097.6,1374.7 2098.8,1374.0 2100.0,1380.2 2101.2,1378.7 2102.4,1377.3 2103.6,1379.7 2104.8,1380.8 2106.0,1378.1 2107.2,1377.2 2108.4,1374.0 2109.6,1380.8 2110.8,1379.6 2112.0,1374.8 2113.2,1377.3 2114.4,1375.8 2115.6,1380.9 2116.8,1376.3 2118.0,1375.1 2119.2,1380.5 2120.4,1376.3 2121.6,1375.1 2122.8,1374.6 2124.0,1375.3 2125.2,1377.3 2126.4,1376.0 2127.6,1379.0 2128.8,1380.6 2130.0,1375.3 2131.2,1374.5 2132.4,1379.7 2133.6,1379.0 2134.8,1380.5 2136.0,1375.1 2137.2,1379.3 2138.4,1376.3 2139.6,1375.6 2140.8,1377.0 2142.0,1380.4 2143.2,1380.2 2144.4,1380.4 2145.6,1376.1 2146.8,1377.6 2148.0,1375.6 2149.2,1376.0 2150.4,1380.4 2151.6,1375.2 2152.8,1381.0 2154.0,1381.3 2155.2,1377.6 2156.4,1378.7 2157.6,1381.4 2158.8,1379.6 2160.0,1380.1 2161.2,1379.8 2162.4,1374.9 2163.6,1380.1 2164.8,1379.5 2166.0,1377.0 2167.2,1374.9 2168.4,1377.1 2169.6,1378.5 2170.8,1377.2 2172.0,1378.7 2173.2,1377.4 2174.4,1379.6 2175.6,1381.3 2176.8,1374.7 2178.0,1379.0 2179.2,1380.4 2180.4,1374.8 2181.6,1377.9 2182.8,1380.4 2184.0,1379.6 2185.2,1377.4 2186.4,1377.1 2187.6,1374.9 2188.8,1378.3 2190.0,1380.6 2191.2,1380.6 2192.4,1379.8 2193.6,1378.3 2194.8,1376.5 2196.0,1376.8 2197.2,1376.0 2198.4,1377.1 2199.6,1374.8 2200.8,1378.0 2202.0,1380.4 2203.2,1377.2 2204.4,1380.9 2205.6,1378.8 2206.8,1380.4 2208.0,1381.9 2209.2,1375.6 2210.4,1377.7 2211.6,1376.0 2212.8,1375.8 2214.0,1380.0 2215.2,1374.9 2216.4,1379.1 2217.6,1381.4 2218.8,1377.9 2220.0,1379.8 2221.2,1375.8 2222.4,1380.3 2223.6,1380.4 2224.8,1379.1 2226.0,1381.4 2227.2,1378.8 2228.4,1379.1 2229.6,1375.0 2230.8,1380.8 2232.0,1377.4 2233.2,1379.9 2234.4,1378.4 2235.6,1376.0 2236.8,1378.3 2238.0,1381.6 2239.2,1379.6 2240.4,1375.7 2241.6,1378.8 2242.8,1381.4 2244.0,1375.1 2245.2,1374.9 2246.4,1380.8 2247.6,1379.2 2248.8,1380.3" stroke="#008080" stroke-width="6.8"/>
<polygon points="371.6,1363.5 409.2,1363.5 390.4,1396.2" fill="#008080"/><polygon points="542.0,1026.3 579.6,1026.3 560.8,1059.0" fill="#008080"/><polygon points="711.8,626.4 749.4,626.4 730.6,659.1" fill="#008080"/><polygon points="877.2,539.4 914.8,539.4 896.0,572.1" fill="#008080"/><polygon points="1041.0,765.5 1078.6,765.5 1059.8,798.2" fill="#008080"/><polygon points="1201.0,943.3 1238.6,943.3 1219.8,976.0" fill="#008080"/><polygon points="1359.4,1147.7 1397.0,1147.7 1378.2,1180.4" fill="#008080"/><polygon points="1515.2,1280.7 1552.8,1280.7 1534.0,1313.4" fill="#008080"/><polygon points="1667.4,1332.0 1705.0,1332.0 1686.2,1364.7" fill="#008080"/><polygon points="1818.9,1357.3 1856.5,1357.3 1837.7,1390.0" fill="#008080"/><polygon points="1966.2,1361.0 2003.8,1361.0 1985.0,1393.7" fill="#008080"/><polygon points="2111.2,1366.0 2148.8,1366.0 2130.0,1398.7" fill="#008080"/><polygon points="2228.9,1368.3 2266.5,1368.3 2247.7,1401.0" fill="#008080"/>
<polyline points="390.0,1377.8 391.2,1374.7 392.4,1378.2 393.6,1371.6 394.8,1375.6 396.0,1373.9 397.2,1377.1 398.4,1372.5 399.6,1377.7 400.8,1375.3 402.0,1378.0 403.2,1374.8 404.4,1374.5 405.6,1377.2 406.8,1378.6 408.0,1374.0 409.2,1378.5 410.4,1378.2 411.6,1372.6 412.8,1375.7 414.0,1376.4 415.2,1378.1 416.4,1375.9 417.6,1371.7 418.8,1374.3 420.0,1374.1 421.2,1374.0 422.4,1377.3 423.6,1372.6 424.8,1371.4 426.0,1373.5 427.2,1374.2 428.4,1376.3 429.6,1373.4 430.8,1370.8 432.0,1375.6 433.2,1372.0 434.4,1373.2 435.6,1371.4 436.8,1369.2 438.0,1372.5 439.2,1372.8 440.4,1368.0 441.6,1369.8 442.8,1368.7 444.0,1366.8 445.2,1366.8 446.4,1372.1 447.6,1371.0 448.8,1366.7 450.0,1368.9 451.2,1363.0 452.4,1369.2 453.6,1365.6 454.8,1367.2 456.0,1362.2 457.2,1362.2 458.4,1361.1 459.6,1365.0 460.8,1359.8 462.0,1359.2 463.2,1361.6 464.4,1359.9 465.6,1354.5 466.8,1352.4 468.0,1354.8 469.2,1347.6 470.4,1348.1 471.6,1350.1 472.8,1348.0 474.0,1339.7 475.2,1335.4 476.4,1338.1 477.6,1333.2 478.8,1326.3 480.0,1324.8 481.2,1316.7 482.4,1317.4 483.6,1310.8 484.8,1307.1 486.0,1296.4 487.2,1296.5 488.4,1289.1 489.6,1285.4 490.8,1278.7 492.0,1276.1 493.2,1269.5 494.4,1263.3 495.6,1250.3 496.8,1244.3 498.0,1235.2 499.2,1231.1 500.4,1224.7 501.6,1213.0 502.8,1211.2 504.0,1200.6 505.2,1191.4 506.4,1183.1 507.6,1178.6 508.8,1167.2 510.0,1154.6 511.2,1148.9 512.4,1149.3 513.6,1137.5 514.8,1134.8 516.0,1122.9 517.2,1112.5 518.4,1109.4 519.6,1094.3 520.8,1088.4 522.0,1081.6 523.2,1076.7 524.4,1077.0 525.6,1069.0 526.8,1062.7 528.0,1053.8 529.2,1038.8 530.4,1037.8 531.6,1036.6 532.8,1038.8 534.0,1027.0 535.2,1026.5 536.4,1028.2 537.6,1017.8 538.8,1022.0 540.0,1017.7 541.2,1014.8 542.4,1014.7 543.6,1010.9 544.8,1003.7 546.0,1015.1 547.2,1015.4 548.4,1012.6 549.6,1004.5 550.8,1008.5 552.0,1010.4 553.2,998.8 554.4,1010.1 555.6,998.5 556.8,1011.8 558.0,1000.4 559.2,1011.5 560.4,999.3 561.6,1003.6 562.8,1007.6 564.0,1009.3 565.2,1004.0 566.4,1005.1 567.6,997.0 568.8,1001.7 570.0,994.7 571.2,1002.3 572.4,998.5 573.6,990.9 574.8,996.2 576.0,983.1 577.2,995.7 578.4,990.4 579.6,982.7 580.8,986.3 582.0,986.7 583.2,982.3 584.4,984.6 585.6,974.7 586.8,970.9 588.0,969.5 589.2,965.6 590.4,966.1 591.6,967.8 592.8,966.6 594.0,959.3 595.2,958.7 596.4,958.7 597.6,950.4 598.8,937.5 600.0,944.1 601.2,930.7 602.4,939.4 603.6,942.1 604.8,929.8 606.0,934.2 607.2,913.9 608.4,926.3 609.6,907.0 610.8,914.1 612.0,899.0 613.2,895.6 614.4,885.8 615.6,879.5 616.8,888.7 618.0,884.5 619.2,868.6 620.4,874.2 621.6,863.0 622.8,871.2 624.0,851.9 625.2,856.1 626.4,857.3 627.6,845.4 628.8,842.9 630.0,840.6 631.2,833.3 632.4,830.4 633.6,812.9 634.8,821.7 636.0,807.8 637.2,811.0 638.4,801.0 639.6,796.3 640.8,795.5 642.0,772.0 643.2,783.3 644.4,765.3 645.6,771.7 646.8,753.2 648.0,753.5 649.2,741.1 650.4,751.2 651.6,735.0 652.8,734.8 654.0,738.1 655.2,724.4 656.4,732.4 657.6,719.7 658.8,725.6 660.0,717.1 661.2,717.3 662.4,704.8 663.6,688.9 664.8,687.6 666.0,691.2 667.2,684.7 668.4,662.6 669.6,658.1 670.8,654.0 672.0,659.7 673.2,645.5 674.4,655.2 675.6,642.5 676.8,652.7 678.0,634.7 679.2,649.1 680.4,631.0 681.6,620.5 682.8,621.0 684.0,635.3 685.2,615.9 686.4,615.3 687.6,632.3 688.8,614.6 690.0,618.2 691.2,613.2 692.4,608.9 693.6,617.9 694.8,592.6 696.0,599.0 697.2,598.0 698.4,601.4 699.6,600.3 700.8,579.1 702.0,580.9 703.2,584.0 704.4,585.9 705.6,597.1 706.8,595.9 708.0,600.5 709.2,585.8 710.4,586.0 711.6,578.2 712.8,598.5 714.0,598.5 715.2,600.1 716.4,594.1 717.6,598.3 718.8,590.0 720.0,597.6 721.2,584.0 722.4,596.0 723.6,596.4 724.8,592.9 726.0,599.2 727.2,595.1 728.4,583.9 729.6,578.9 730.8,586.8 732.0,583.7 733.2,603.3 734.4,593.8 735.6,599.5 736.8,605.3 738.0,602.1 739.2,604.6 740.4,596.8 741.6,602.5 742.8,608.1 744.0,594.5 745.2,601.8 746.4,608.7 747.6,589.7 748.8,585.2 750.0,596.1 751.2,607.0 752.4,597.0 753.6,588.2 754.8,608.9 756.0,594.7 757.2,593.4 758.4,583.3 759.6,592.4 760.8,606.7 762.0,591.6 763.2,600.4 764.4,604.0 765.6,578.6 766.8,596.7 768.0,581.4 769.2,590.9 770.4,599.8 771.6,586.0 772.8,595.4 774.0,583.3 775.2,591.3 776.4,594.5 777.6,588.8 778.8,582.4 780.0,593.2 781.2,576.4 782.4,581.2 783.6,593.1 784.8,585.0 786.0,573.5 787.2,589.0 788.4,595.2 789.6,574.7 790.8,594.8 792.0,569.8 793.2,595.6 794.4,586.2 795.6,576.8 796.8,574.5 798.0,582.3 799.2,582.7 800.4,585.3 801.6,586.3 802.8,575.3 804.0,580.5 805.2,578.5 806.4,597.6 807.6,580.3 808.8,595.0 810.0,580.2 811.2,596.2 812.4,591.0 813.6,593.4 814.8,600.6 816.0,589.2 817.2,600.0 818.4,606.1 819.6,601.6 820.8,598.2 822.0,600.9 823.2,606.5 824.4,583.4 825.6,609.6 826.8,595.7 828.0,607.3 829.2,585.0 830.4,591.3 831.6,598.8 832.8,599.4 834.0,609.5 835.2,593.1 836.4,591.3 837.6,602.2 838.8,589.9 840.0,610.3 841.2,592.6 842.4,586.9 843.6,604.1 844.8,594.0 846.0,613.0 847.2,592.1 848.4,603.4 849.6,606.8 850.8,604.9 852.0,594.1 853.2,607.2 854.4,597.8 855.6,596.5 856.8,620.5 858.0,604.8 859.2,601.3 860.4,601.3 861.6,625.3 862.8,626.8 864.0,625.4 865.2,628.1 866.4,616.0 867.6,625.2 868.8,630.4 870.0,619.0 871.2,632.6 872.4,635.5 873.6,629.4 874.8,633.7 876.0,618.9 877.2,629.2 878.4,629.1 879.6,631.4 880.8,647.2 882.0,649.0 883.2,627.8 884.4,642.7 885.6,634.3 886.8,647.4 888.0,657.2 889.2,637.7 890.4,645.6 891.6,646.4 892.8,657.6 894.0,662.4 895.2,645.5 896.4,652.3 897.6,659.3 898.8,676.9 900.0,675.1 901.2,674.9 902.4,686.3 903.6,675.4 904.8,688.2 906.0,677.6 907.2,680.7 908.4,699.3 909.6,699.8 910.8,697.9 912.0,689.7 913.2,696.3 914.4,713.9 915.6,705.9 916.8,699.4 918.0,707.2 919.2,718.8 920.4,728.4 921.6,722.1 922.8,720.3 924.0,735.9 925.2,727.6 926.4,729.5 927.6,739.4 928.8,740.8 930.0,751.4 931.2,745.0 932.4,752.3 933.6,751.1 934.8,759.0 936.0,767.2 937.2,752.7 938.4,773.6 939.6,777.1 940.8,768.6 942.0,764.2 943.2,777.4 944.4,785.4 945.6,778.4 946.8,781.4 948.0,788.6 949.2,803.3 950.4,800.2 951.6,805.6 952.8,806.5 954.0,811.6 955.2,809.8 956.4,814.2 957.6,809.4 958.8,831.0 960.0,817.5 961.2,834.3 962.4,834.3 963.6,840.7 964.8,840.3 966.0,844.8 967.2,844.7 968.4,843.4 969.6,857.9 970.8,861.1 972.0,858.9 973.2,873.5 974.4,876.7 975.6,869.0 976.8,873.8 978.0,872.1 979.2,884.7 980.4,877.8 981.6,883.3 982.8,898.4 984.0,886.5 985.2,903.5 986.4,900.4 987.6,896.8 988.8,911.2 990.0,910.2 991.2,916.7 992.4,912.5 993.6,914.3 994.8,913.7 996.0,917.0 997.2,927.0 998.4,927.7 999.6,924.7 1000.8,929.8 1002.0,937.9 1003.2,932.9 1004.4,934.9 1005.6,948.8 1006.8,941.3 1008.0,949.3 1009.2,960.6 1010.4,948.5 1011.6,956.0 1012.8,955.0 1014.0,967.5 1015.2,965.2 1016.4,960.3 1017.6,974.2 1018.8,979.4 1020.0,979.7 1021.2,972.7 1022.4,987.9 1023.6,985.1 1024.8,982.4 1026.0,979.9 1027.2,989.1 1028.4,983.7 1029.6,986.5 1030.8,996.8 1032.0,1000.2 1033.2,999.8 1034.4,998.8 1035.6,1006.7 1036.8,1008.7 1038.0,997.3 1039.2,1010.2 1040.4,1013.0 1041.6,1011.5 1042.8,1010.4 1044.0,1017.5 1045.2,1007.4 1046.4,1022.7 1047.6,1018.6 1048.8,1021.0 1050.0,1023.8 1051.2,1022.4 1052.4,1021.4 1053.6,1022.2 1054.8,1022.6 1056.0,1021.9 1057.2,1036.4 1058.4,1039.7 1059.6,1037.0 1060.8,1032.8 1062.0,1035.9 1063.2,1043.8 1064.4,1040.4 1065.6,1040.7 1066.8,1048.2 1068.0,1042.2 1069.2,1041.4 1070.4,1047.3 1071.6,1056.2 1072.8,1059.5 1074.0,1049.7 1075.2,1059.5 1076.4,1051.2 1077.6,1060.9 1078.8,1054.7 1080.0,1057.7 1081.2,1067.4 1082.4,1059.3 1083.6,1066.6 1084.8,1065.6 1086.0,1076.5 1087.2,1074.7 1088.4,1069.4 1089.6,1080.9 1090.8,1077.5 1092.0,1072.2 1093.2,1075.6 1094.4,1084.7 1095.6,1088.4 1096.8,1077.2 1098.0,1086.5 1099.2,1083.1 1100.4,1092.0 1101.6,1084.1 1102.8,1096.2 1104.0,1095.2 1105.2,1098.4 1106.4,1098.0 1107.6,1102.4 1108.8,1106.2 1110.0,1097.5 1111.2,1102.7 1112.4,1102.3 1113.6,1107.4 1114.8,1110.8 1116.0,1109.6 1117.2,1116.1 1118.4,1107.2 1119.6,1110.7 1120.8,1111.8 1122.0,1112.6 1123.2,1120.9 1124.4,1123.5 1125.6,1120.8 1126.8,1126.9 1128.0,1124.0 1129.2,1128.6 1130.4,1123.3 1131.6,1129.0 1132.8,1127.2 1134.0,1138.0 1135.2,1138.6 1136.4,1142.9 1137.6,1144.9 1138.8,1142.4 1140.0,1139.0 1141.2,1142.6 1142.4,1148.3 1143.6,1150.3 1144.8,1151.8 1146.0,1145.5 1147.2,1147.1 1148.4,1155.7 1149.6,1148.9 1150.8,1155.3 1152.0,1155.6 1153.2,1161.4 1154.4,1153.5 1155.6,1162.7 1156.8,1158.9 1158.0,1164.4 1159.2,1159.3 1160.4,1166.2 1161.6,1169.1 1162.8,1169.8 1164.0,1172.1 1165.2,1171.6 1166.4,1171.8 1167.6,1175.0 1168.8,1169.9 1170.0,1177.8 1171.2,1173.0 1172.4,1178.2 1173.6,1179.6 1174.8,1176.8 1176.0,1179.4 1177.2,1186.8 1178.4,1187.2 1179.6,1186.8 1180.8,1190.5 1182.0,1188.5 1183.2,1190.9 1184.4,1191.7 1185.6,1196.9 1186.8,1190.3 1188.0,1200.2 1189.2,1192.4 1190.4,1197.2 1191.6,1205.9 1192.8,1198.6 1194.0,1201.4 1195.2,1200.5 1196.4,1209.3 1197.6,1203.1 1198.8,1206.7 1200.0,1207.3 1201.2,1207.0 1202.4,1212.0 1203.6,1210.9 1204.8,1218.5 1206.0,1214.2 1207.2,1218.2 1208.4,1211.6 1209.6,1221.5 1210.8,1219.9 1212.0,1217.6 1213.2,1221.4 1214.4,1216.5 1215.6,1219.0 1216.8,1226.0 1218.0,1224.3 1219.2,1229.9 1220.4,1228.9 1221.6,1232.3 1222.8,1232.4 1224.0,1225.5 1225.2,1234.3 1226.4,1233.6 1227.6,1229.2 1228.8,1229.7 1230.0,1232.4 1231.2,1238.7 1232.4,1235.3 1233.6,1237.9 1234.8,1238.4 1236.0,1240.8 1237.2,1239.7 1238.4,1236.9 1239.6,1247.1 1240.8,1244.1 1242.0,1239.6 1243.2,1242.3 1244.4,1250.9 1245.6,1252.1 1246.8,1248.6 1248.0,1248.1 1249.2,1250.0 1250.4,1250.0 1251.6,1252.8 1252.8,1255.1 1254.0,1251.3 1255.2,1260.7 1256.4,1254.2 1257.6,1254.0 1258.8,1260.4 1260.0,1258.8 1261.2,1263.7 1262.4,1259.0 1263.6,1263.6 1264.8,1260.4 1266.0,1268.2 1267.2,1263.3 1268.4,1271.3 1269.6,1265.0 1270.8,1269.4 1272.0,1268.8 1273.2,1274.8 1274.4,1269.9 1275.6,1272.9 1276.8,1276.7 1278.0,1269.8 1279.2,1274.5 1280.4,1278.8 1281.6,1273.8 1282.8,1273.2 1284.0,1278.3 1285.2,1281.1 1286.4,1282.4 1287.6,1279.3 1288.8,1277.1 1290.0,1275.9 1291.2,1280.0 1292.4,1278.2 1293.6,1283.0 1294.8,1284.4 1296.0,1284.8 1297.2,1280.9 1298.4,1288.6 1299.6,1287.2 1300.8,1286.5 1302.0,1288.5 1303.2,1290.3 1304.4,1285.3 1305.6,1290.0 1306.8,1287.2 1308.0,1287.5 1309.2,1293.4 1310.4,1286.4 1311.6,1290.2 1312.8,1293.6 1314.0,1292.7 1315.2,1291.1 1316.4,1295.2 1317.6,1290.9 1318.8,1294.0 1320.0,1294.5 1321.2,1292.0 1322.4,1292.8 1323.6,1299.5 1324.8,1293.4 1326.0,1301.7 1327.2,1296.7 1328.4,1302.8 1329.6,1301.3 1330.8,1299.9 1332.0,1303.9 1333.2,1297.8 1334.4,1302.4 1335.6,1304.5 1336.8,1305.1 1338.0,1302.1 1339.2,1300.5 1340.4,1308.9 1341.6,1309.2 1342.8,1304.6 1344.0,1309.7 1345.2,1304.4 1346.4,1306.1 1347.6,1312.6 1348.8,1305.7 1350.0,1310.3 1351.2,1312.1 1352.4,1313.2 1353.6,1314.7 1354.8,1307.8 1356.0,1313.8 1357.2,1313.7 1358.4,1312.8 1359.6,1311.2 1360.8,1316.5 1362.0,1312.8 1363.2,1315.7 1364.4,1313.3 1365.6,1314.7 1366.8,1319.5 1368.0,1313.5 1369.2,1319.1 1370.4,1313.0 1371.6,1320.8 1372.8,1318.5 1374.0,1316.5 1375.2,1320.6 1376.4,1320.6 1377.6,1322.8 1378.8,1321.0 1380.0,1322.0 1381.2,1319.2 1382.4,1323.2 1383.6,1323.2 1384.8,1321.3 1386.0,1319.7 1387.2,1326.0 1388.4,1322.3 1389.6,1325.5 1390.8,1319.8 1392.0,1322.2 1393.2,1321.7 1394.4,1326.5 1395.6,1324.0 1396.8,1327.8 1398.0,1324.5 1399.2,1324.7 1400.4,1325.1 1401.6,1324.9 1402.8,1327.9 1404.0,1327.8 1405.2,1331.3 1406.4,1327.3 1407.6,1325.9 1408.8,1332.2 1410.0,1333.2 1411.2,1330.4 1412.4,1326.9 1413.6,1330.7 1414.8,1328.6 1416.0,1330.2 1417.2,1331.2 1418.4,1328.6 1419.6,1332.6 1420.8,1333.0 1422.0,1331.3 1423.2,1330.5 1424.4,1334.8 1425.6,1335.7 1426.8,1338.5 1428.0,1336.0 1429.2,1333.1 1430.4,1333.4 1431.6,1332.2 1432.8,1333.2 1434.0,1339.3 1435.2,1333.4 1436.4,1337.2 1437.6,1335.5 1438.8,1339.3 1440.0,1340.7 1441.2,1339.3 1442.4,1340.7 1443.6,1335.9 1444.8,1336.7 1446.0,1336.7 1447.2,1338.6 1448.4,1337.0 1449.6,1343.1 1450.8,1344.2 1452.0,1343.8 1453.2,1340.2 1454.4,1341.7 1455.6,1343.9 1456.8,1340.5 1458.0,1341.9 1459.2,1345.1 1460.4,1343.9 1461.6,1343.4 1462.8,1342.4 1464.0,1347.1 1465.2,1343.7 1466.4,1344.8 1467.6,1346.2 1468.8,1343.6 1470.0,1349.4 1471.2,1345.2 1472.4,1348.9 1473.6,1348.3 1474.8,1344.8 1476.0,1343.9 1477.2,1347.7 1478.4,1350.2 1479.6,1345.7 1480.8,1351.1 1482.0,1346.7 1483.2,1348.4 1484.4,1346.8 1485.6,1347.3 1486.8,1351.1 1488.0,1352.3 1489.2,1347.4 1490.4,1353.6 1491.6,1351.7 1492.8,1352.1 1494.0,1352.0 1495.2,1349.3 1496.4,1355.8 1497.6,1355.5 1498.8,1350.0 1500.0,1351.7 1501.2,1351.1 1502.4,1353.2 1503.6,1353.5 1504.8,1357.5 1506.0,1355.6 1507.2,1357.9 1508.4,1357.4 1509.6,1352.4 1510.8,1357.1 1512.0,1356.1 1513.2,1352.8 1514.4,1356.1 1515.6,1357.4 1516.8,1353.3 1518.0,1359.0 1519.2,1359.5 1520.4,1360.0 1521.6,1352.7 1522.8,1355.5 1524.0,1354.1 1525.2,1353.9 1526.4,1357.5 1527.6,1356.5 1528.8,1358.1 1530.0,1359.1 1531.2,1356.6 1532.4,1359.8 1533.6,1360.2 1534.8,1361.3 1536.0,1354.0 1537.2,1356.6 1538.4,1361.3 1539.6,1360.9 1540.8,1356.2 1542.0,1361.0 1543.2,1361.7 1544.4,1361.0 1545.6,1356.0 1546.8,1360.8 1548.0,1355.4 1549.2,1359.9 1550.4,1360.1 1551.6,1361.7 1552.8,1358.3 1554.0,1359.8 1555.2,1359.3 1556.4,1357.2 1557.6,1359.5 1558.8,1362.0 1560.0,1362.1 1561.2,1358.5 1562.4,1357.5 1563.6,1364.0 1564.8,1362.5 1566.0,1358.5 1567.2,1362.3 1568.4,1359.8 1569.6,1363.4 1570.8,1364.7 1572.0,1361.2 1573.2,1364.7 1574.4,1359.2 1575.6,1360.7 1576.8,1362.0 1578.0,1362.8 1579.2,1362.8 1580.4,1366.3 1581.6,1361.8 1582.8,1361.3 1584.0,1366.6 1585.2,1364.7 1586.4,1365.2 1587.6,1363.8 1588.8,1365.1 1590.0,1367.2 1591.2,1362.7 1592.4,1364.8 1593.6,1363.5 1594.8,1365.8 1596.0,1364.2 1597.2,1364.4 1598.4,1364.6 1599.6,1364.7 1600.8,1366.7 1602.0,1363.2 1603.2,1365.0 1604.4,1362.8 1605.6,1365.7 1606.8,1363.9 1608.0,1367.3 1609.2,1364.5 1610.4,1370.5 1611.6,1368.7 1612.8,1365.1 1614.0,1370.7 1615.2,1369.9 1616.4,1364.7 1617.6,1368.8 1618.8,1370.4 1620.0,1364.2 1621.2,1365.2 1622.4,1365.8 1623.6,1369.1 1624.8,1368.9 1626.0,1365.5 1627.2,1365.7 1628.4,1365.6 1629.6,1368.2 1630.8,1367.2 1632.0,1368.5 1633.2,1372.2 1634.4,1369.2 1635.6,1368.2 1636.8,1368.6 1638.0,1370.3 1639.2,1372.6 1640.4,1369.2 1641.6,1371.9 1642.8,1371.4 1644.0,1371.0 1645.2,1370.6 1646.4,1370.7 1647.6,1369.9 1648.8,1367.3 1650.0,1371.1 1651.2,1367.2 1652.4,1372.0 1653.6,1368.3 1654.8,1371.6 1656.0,1370.8 1657.2,1369.3 1658.4,1371.7 1659.6,1373.8 1660.8,1370.7 1662.0,1370.7 1663.2,1370.7 1664.4,1366.8 1665.6,1368.4 1666.8,1372.4 1668.0,1367.5 1669.2,1368.6 1670.4,1373.7 1671.6,1374.0 1672.8,1370.0 1674.0,1367.7 1675.2,1372.5 1676.4,1373.8 1677.6,1370.4 1678.8,1372.5 1680.0,1368.6 1681.2,1372.6 1682.4,1366.9 1683.6,1373.7 1684.8,1370.2 1686.0,1371.1 1687.2,1371.7 1688.4,1370.2 1689.6,1369.7 1690.8,1368.8 1692.0,1371.2 1693.2,1373.7 1694.4,1373.1 1695.6,1368.5 1696.8,1372.0 1698.0,1373.3 1699.2,1368.5 1700.4,1370.7 1701.6,1370.7 1702.8,1371.7 1704.0,1368.1 1705.2,1371.0 1706.4,1370.9 1707.6,1373.2 1708.8,1372.2 1710.0,1373.4 1711.2,1370.5 1712.4,1371.9 1713.6,1368.7 1714.8,1373.0 1716.0,1374.6 1717.2,1373.2 1718.4,1373.1 1719.6,1371.5 1720.8,1374.6 1722.0,1373.0 1723.2,1374.7 1724.4,1368.7 1725.6,1372.9 1726.8,1370.3 1728.0,1369.2 1729.2,1370.7 1730.4,1373.0 1731.6,1368.9 1732.8,1368.8 1734.0,1373.8 1735.2,1371.7 1736.4,1372.0 1737.6,1369.2 1738.8,1368.7 1740.0,1371.3 1741.2,1374.3 1742.4,1370.8 1743.6,1372.8 1744.8,1371.4 1746.0,1370.3 1747.2,1373.2 1748.4,1370.6 1749.6,1372.7 1750.8,1371.0 1752.0,1370.9 1753.2,1369.7 1754.4,1371.1 1755.6,1374.4 1756.8,1373.7 1758.0,1374.4 1759.2,1375.0 1760.4,1376.8 1761.6,1373.2 1762.8,1373.4 1764.0,1375.5 1765.2,1370.1 1766.4,1373.3 1767.6,1372.6 1768.8,1375.2 1770.0,1370.4 1771.2,1372.9 1772.4,1377.2 1773.6,1371.7 1774.8,1376.2 1776.0,1376.2 1777.2,1372.1 1778.4,1371.3 1779.6,1376.1 1780.8,1371.4 1782.0,1371.2 1783.2,1377.1 1784.4,1372.9 1785.6,1374.5 1786.8,1372.4 1788.0,1373.1 1789.2,1378.0 1790.4,1374.3 1791.6,1374.7 1792.8,1373.2 1794.0,1371.1 1795.2,1376.1 1796.4,1378.1 1797.6,1372.4 1798.8,1375.6 1800.0,1375.0 1801.2,1375.6 1802.4,1375.0 1803.6,1375.9 1804.8,1375.0 1806.0,1375.6 1807.2,1373.2 1808.4,1377.1 1809.6,1377.8 1810.8,1374.9 1812.0,1372.8 1813.2,1371.7 1814.4,1376.3 1815.6,1377.3 1816.8,1371.2 1818.0,1374.0 1819.2,1372.7 1820.4,1374.1 1821.6,1372.5 1822.8,1371.8 1824.0,1375.8 1825.2,1371.6 1826.4,1371.9 1827.6,1374.6 1828.8,1375.8 1830.0,1376.8 1831.2,1375.5 1832.4,1374.9 1833.6,1377.3 1834.8,1378.1 1836.0,1377.3 1837.2,1377.2 1838.4,1373.7 1839.6,1373.9 1840.8,1373.3 1842.0,1372.9 1843.2,1373.0 1844.4,1371.3 1845.6,1374.7 1846.8,1375.2 1848.0,1376.7 1849.2,1375.1 1850.4,1372.4 1851.6,1374.5 1852.8,1374.8 1854.0,1372.6 1855.2,1377.1 1856.4,1372.6 1857.6,1373.6 1858.8,1378.1 1860.0,1376.8 1861.2,1377.5 1862.4,1374.2 1863.6,1376.9 1864.8,1373.6 1866.0,1374.8 1867.2,1375.4 1868.4,1377.5 1869.6,1372.7 1870.8,1378.8 1872.0,1372.5 1873.2,1377.7 1874.4,1373.7 1875.6,1373.0 1876.8,1378.7 1878.0,1375.3 1879.2,1378.4 1880.4,1375.0 1881.6,1373.8 1882.8,1374.3 1884.0,1376.5 1885.2,1379.3 1886.4,1375.5 1887.6,1376.1 1888.8,1373.0 1890.0,1376.4 1891.2,1375.6 1892.4,1375.6 1893.6,1377.3 1894.8,1378.8 1896.0,1374.7 1897.2,1375.6 1898.4,1377.0 1899.6,1379.3 1900.8,1377.3 1902.0,1374.0 1903.2,1380.3 1904.4,1375.2 1905.6,1378.2 1906.8,1379.5 1908.0,1373.8 1909.2,1378.8 1910.4,1379.7 1911.6,1378.5 1912.8,1378.0 1914.0,1375.3 1915.2,1380.9 1916.4,1374.0 1917.6,1380.8 1918.8,1379.9 1920.0,1380.6 1921.2,1374.5 1922.4,1380.7 1923.6,1380.1 1924.8,1379.9 1926.0,1376.5 1927.2,1376.1 1928.4,1375.1 1929.6,1380.3 1930.8,1380.5 1932.0,1375.4 1933.2,1375.6 1934.4,1377.0 1935.6,1376.2 1936.8,1378.0 1938.0,1379.8 1939.2,1380.6 1940.4,1375.9 1941.6,1377.7 1942.8,1375.3 1944.0,1377.5 1945.2,1375.7 1946.4,1375.4 1947.6,1377.1 1948.8,1376.0 1950.0,1375.7 1951.2,1375.8 1952.4,1379.5 1953.6,1375.7 1954.8,1376.3 1956.0,1380.7 1957.2,1377.5 1958.4,1376.5 1959.6,1381.8 1960.8,1381.9 1962.0,1378.3 1963.2,1377.2 1964.4,1380.3 1965.6,1381.1 1966.8,1377.9 1968.0,1380.8 1969.2,1381.2 1970.4,1374.9 1971.6,1381.8 1972.8,1375.4 1974.0,1377.3 1975.2,1381.3 1976.4,1381.5 1977.6,1376.3 1978.8,1377.7 1980.0,1380.2 1981.2,1381.6 1982.4,1380.6 1983.6,1377.9 1984.8,1381.7 1986.0,1377.6 1987.2,1377.9 1988.4,1381.7 1989.6,1376.9 1990.8,1375.0 1992.0,1376.9 1993.2,1380.1 1994.4,1379.0 1995.6,1375.0 1996.8,1376.4 1998.0,1381.0 1999.2,1380.6 2000.4,1378.0 2001.6,1376.8 2002.8,1379.3 2004.0,1375.1 2005.2,1378.1 2006.4,1379.9 2007.6,1380.4 2008.8,1376.8 2010.0,1374.9 2011.2,1377.9 2012.4,1378.8 2013.6,1378.8 2014.8,1376.1 2016.0,1377.0 2017.2,1378.4 2018.4,1376.2 2019.6,1377.8 2020.8,1375.0 2022.0,1378.6 2023.2,1377.7 2024.4,1381.4 2025.6,1381.1 2026.8,1375.0 2028.0,1377.1 2029.2,1375.8 2030.4,1377.3 2031.6,1377.2 2032.8,1375.2 2034.0,1376.7 2035.2,1377.1 2036.4,1381.4 2037.6,1379.8 2038.8,1378.7 2040.0,1376.1 2041.2,1381.3 2042.4,1375.2 2043.6,1381.8 2044.8,1381.4 2046.0,1376.0 2047.2,1375.4 2048.4,1379.1 2049.6,1379.7 2050.8,1378.6 2052.0,1380.4 2053.2,1381.1 2054.4,1375.6 2055.6,1379.5 2056.8,1376.2 2058.0,1382.0 2059.2,1381.1 2060.4,1379.8 2061.6,1378.0 2062.8,1380.3 2064.0,1375.4 2065.2,1379.9 2066.4,1376.2 2067.6,1378.2 2068.8,1378.2 2070.0,1380.8 2071.2,1377.3 2072.4,1377.8 2073.6,1377.6 2074.8,1379.2 2076.0,1376.0 2077.2,1380.1 2078.4,1376.9 2079.6,1379.8 2080.8,1381.1 2082.0,1381.4 2083.2,1376.6 2084.4,1380.6 2085.6,1379.3 2086.8,1375.8 2088.0,1376.5 2089.2,1376.4 2090.4,1377.5 2091.6,1377.9 2092.8,1379.0 2094.0,1379.4 2095.2,1377.9 2096.4,1381.9 2097.6,1380.7 2098.8,1382.2 2100.0,1380.1 2101.2,1379.1 2102.4,1379.6 2103.6,1376.1 2104.8,1379.2 2106.0,1376.9 2107.2,1382.6 2108.4,1381.9 2109.6,1377.5 2110.8,1379.8 2112.0,1380.7 2113.2,1380.8 2114.4,1380.0 2115.6,1379.2 2116.8,1382.2 2118.0,1378.3 2119.2,1375.8 2120.4,1381.4 2121.6,1381.6 2122.8,1375.9 2124.0,1378.5 2125.2,1379.9 2126.4,1377.3 2127.6,1381.6 2128.8,1376.8 2130.0,1379.7 2131.2,1382.1 2132.4,1381.7 2133.6,1376.6 2134.8,1377.5 2136.0,1376.2 2137.2,1378.2 2138.4,1382.7 2139.6,1375.9 2140.8,1378.2 2142.0,1378.6 2143.2,1379.0 2144.4,1377.8 2145.6,1380.3 2146.8,1376.7 2148.0,1380.9 2149.2,1379.0 2150.4,1380.4 2151.6,1380.9 2152.8,1378.3 2154.0,1378.1 2155.2,1381.3 2156.4,1378.7 2157.6,1379.3 2158.8,1380.1 2160.0,1377.2 2161.2,1381.6 2162.4,1376.3 2163.6,1382.5 2164.8,1380.3 2166.0,1377.2 2167.2,1381.2 2168.4,1381.5 2169.6,1378.8 2170.8,1380.2 2172.0,1375.9 2173.2,1379.0 2174.4,1382.5 2175.6,1375.8 2176.8,1378.4 2178.0,1381.0 2179.2,1377.5 2180.4,1375.8 2181.6,1378.6 2182.8,1382.1 2184.0,1381.4 2185.2,1382.4 2186.4,1376.0 2187.6,1377.2 2188.8,1382.1 2190.0,1382.3 2191.2,1378.8 2192.4,1375.5 2193.6,1379.6 2194.8,1381.8 2196.0,1378.1 2197.2,1382.0 2198.4,1375.5 2199.6,1380.9 2200.8,1376.0 2202.0,1381.8 2203.2,1378.8 2204.4,1380.7 2205.6,1375.6 2206.8,1380.2 2208.0,1376.1 2209.2,1378.5 2210.4,1379.0 2211.6,1381.0 2212.8,1378.2 2214.0,1376.0 2215.2,1379.9 2216.4,1375.5 2217.6,1376.0 2218.8,1378.8 2220.0,1378.7 2221.2,1375.7 2222.4,1375.9 2223.6,1380.7 2224.8,1379.8 2226.0,1377.7 2227.2,1381.2 2228.4,1376.3 2229.6,1380.8 2230.8,1375.8 2232.0,1381.4 2233.2,1379.0 2234.4,1377.6 2235.6,1376.5 2236.8,1375.7 2238.0,1377.6 2239.2,1380.1 2240.4,1379.4 2241.6,1378.3 2242.8,1376.4 2244.0,1381.3 2245.2,1376.7 2246.4,1376.7 2247.6,1380.0 2248.8,1379.0" stroke="#ff00ff" stroke-width="6.8"/>
<polygon points="369.4,1373.4 400.9,1355.1 400.9,1391.7" fill="#ff00ff"/><polygon points="542.0,1011.0 573.5,992.7 573.5,1029.3" fill="#ff00ff"/><polygon points="708.0,603.3 739.5,585.0 739.5,621.6" fill="#ff00ff"/><polygon points="875.3,653.2 906.8,634.9 906.8,671.5" fill="#ff00ff"/><polygon points="1039.0,1034.7 1070.5,1016.4 1070.5,1053.0" fill="#ff00ff"/><polygon points="1200.1,1227.2 1231.6,1208.9 1231.6,1245.5" fill="#ff00ff"/><polygon points="1358.3,1319.4 1389.8,1301.1 1389.8,1337.7" fill="#ff00ff"/><polygon points="1513.3,1357.5 1544.8,1339.2 1544.8,1375.8" fill="#ff00ff"/><polygon points="1666.3,1369.4 1697.8,1351.1 1697.8,1387.7" fill="#ff00ff"/><polygon points="1817.3,1372.4 1848.8,1354.1 1848.8,1390.7" fill="#ff00ff"/><polygon points="1966.0,1378.4 1997.5,1360.1 1997.5,1396.7" fill="#ff00ff"/><polygon points="2111.9,1379.3 2143.4,1361.0 2143.4,1397.6" fill="#ff00ff"/><polygon points="2225.2,1376.4 2256.7,1358.1 2256.7,1394.7" fill="#ff00ff"/>
</g>
<g font-family="'Liberation Serif', serif" fill="#000" style="font-kerning:none">
<text transform="translate(390.95,1550.69) scale(0.9870,1.0130)" font-size="80" text-anchor="middle">450</text>
<text transform="translate(597.17,1550.69) scale(0.9870,1.0130)" font-size="80" text-anchor="middle">500</text>
<text transform="translate(804.29,1550.69) scale(0.9870,1.0130)" font-size="80" text-anchor="middle">550</text>
<text transform="translate(1010.72,1550.69) scale(0.9870,1.0130)" font-size="80" text-anchor="middle">600</text>
<text transform="translate(1215.44,1550.69) scale(0.9870,1.0130)" font-size="80" text-anchor="middle">650</text>
<text transform="translate(1421.16,1550.69) scale(0.9870,1.0130)" font-size="80" text-anchor="middle">700</text>
<text transform="translate(1627.48,1550.69) scale(0.9870,1.0130)" font-size="80" text-anchor="middle">750</text>
<text transform="translate(1836.01,1550.69) scale(0.9870,1.0130)" font-size="80" text-anchor="middle">800</text>
<text transform="translate(2042.63,1550.69) scale(0.9870,1.0130)" font-size="80" text-anchor="middle">850</text>
<text transform="translate(2247.85,1550.69) scale(0.9870,1.0130)" font-size="80" text-anchor="middle">900</text>
<text transform="translate(303.74,1467.08) scale(0.9853,1.0222)" font-size="80">0</text>
<text transform="translate(152.81,1019.78) scale(0.9968,1.0185)" font-size="80">1×10</text>
<text transform="translate(316.86,984.10) scale(0.9385,1.0361)" font-size="55">4</text>
<text transform="translate(152.81,564.88) scale(0.9968,1.0185)" font-size="80">2×10</text>
<text transform="translate(316.86,529.20) scale(0.9385,1.0361)" font-size="55">4</text>
<text transform="translate(152.81,109.78) scale(0.9968,1.0185)" font-size="80">3×10</text>
<text transform="translate(316.86,74.10) scale(0.9385,1.0361)" font-size="55">4</text>
<text transform="translate(931.90,1710.15) scale(1.0068,1.0020)" font-size="110">Wavelength (nm)</text>
<text transform="translate(113.71,1178.04) rotate(-90) scale(1.0134,1.0081)" font-size="110">PL intensity (a. u.)</text>
<text transform="translate(418.71,957.20) scale(0.9947,1.0029)" font-size="104">490</text>
<text transform="translate(578.81,547.10) scale(0.9986,1.0014)" font-size="104">530</text>
<text transform="translate(799.06,259.98) scale(0.9740,1.0159)" font-size="104">575</text>
<text transform="translate(1175.56,185.18) scale(0.9859,1.0171)" font-size="104">627</text>
<text transform="translate(1445.93,176.00) scale(0.9832,1.0204)" font-size="75">HF : Ethanol : DI water</text>
<text transform="translate(1600.45,267.10) scale(0.9495,1.0408)" font-size="75">1 : 1 : 1</text>
<text transform="translate(1600.45,358.10) scale(0.9495,1.0408)" font-size="75">1 : 2 : 1</text>
<text transform="translate(1600.45,449.10) scale(0.9495,1.0408)" font-size="75">1 : 3 : 1</text>
<text transform="translate(1600.45,540.10) scale(0.9495,1.0408)" font-size="75">1 : 4 : 1</text>
</g>
<g fill="none" stroke-width="6.2" stroke-linecap="round">
<line x1="1428" y1="243.1" x2="1579" y2="243.1" stroke="#ff0000"/>
<line x1="1428" y1="334.1" x2="1579" y2="334.1" stroke="#0000ff"/>
<line x1="1428" y1="425.1" x2="1579" y2="425.1" stroke="#008080"/>
<line x1="1428" y1="516.1" x2="1579" y2="516.1" stroke="#ff00ff"/>
</g>
<circle cx="1503.5" cy="243.1" r="15.8" fill="#ff0000"/>
<polygon points="1503.5,312.4 1522.3,345.1 1484.7,345.1" fill="#0000ff"/>
<polygon points="1484.7,414.1 1522.3,414.1 1503.5,446.8" fill="#008080"/>
<polygon points="1482.5,516.1 1514.0,497.8 1514.0,534.4" fill="#ff00ff"/>
</svg>
</body></html>
